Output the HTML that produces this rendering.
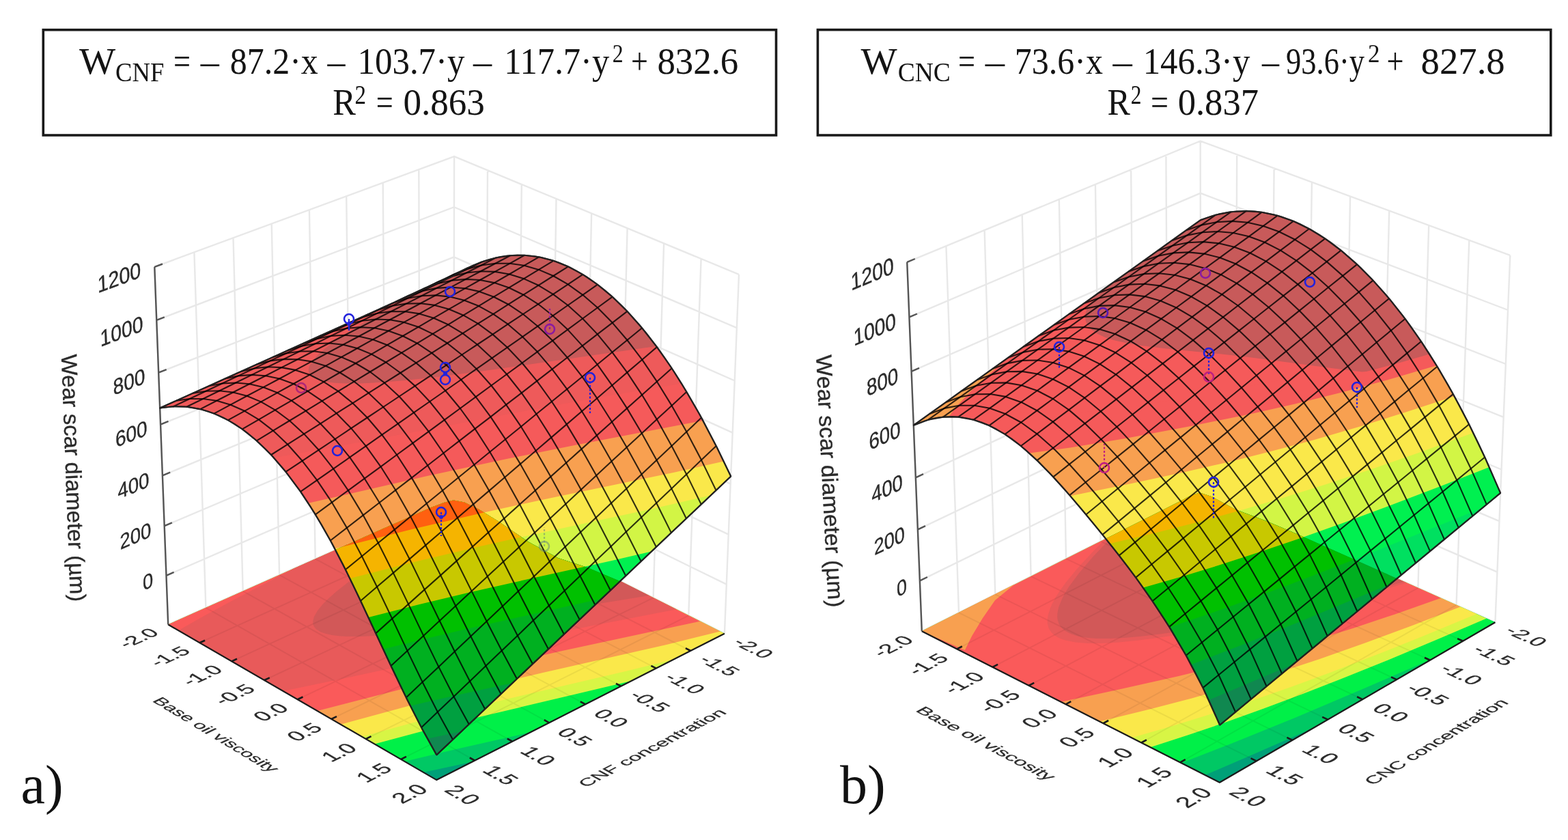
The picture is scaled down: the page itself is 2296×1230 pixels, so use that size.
<!DOCTYPE html>
<html><head><meta charset="utf-8"><style>
html,body{margin:0;padding:0;background:#fff;}
svg{display:block;}
.eq text{font-family:"Liberation Serif",serif;fill:#141414;}
.tk text{font-family:"Liberation Sans",Arial,sans-serif;stroke:#2b2b2b;stroke-width:0.35px;}
.lab{font-family:"Liberation Serif",serif;fill:#111;}
</style></head><body>
<svg xmlns="http://www.w3.org/2000/svg" width="2296" height="1230" viewBox="0 0 2296 1230">
<rect width="2296" height="1230" fill="#fff"/>
<rect x="63.3" y="43.7" width="1073.2" height="154.3" fill="none" stroke="#1a1a1a" stroke-width="3.6"/>
<rect x="1197.4" y="43.6" width="1073.4" height="154.4" fill="none" stroke="#1a1a1a" stroke-width="3.6"/>
<g class="eq"><text x="115.9" y="107.5" font-size="55.5" textLength="53.2" lengthAdjust="spacingAndGlyphs">W</text><text x="169.1" y="119.3" font-size="41" textLength="71.3" lengthAdjust="spacingAndGlyphs">CNF</text><text x="254.0" y="107.5" font-size="55.5" textLength="25.0" lengthAdjust="spacingAndGlyphs">=</text><text x="293.7" y="107.5" font-size="55.5" textLength="27.1" lengthAdjust="spacingAndGlyphs">–</text><text x="336.7" y="107.5" font-size="55.5" textLength="129.1" lengthAdjust="spacingAndGlyphs">87.2·x</text><text x="479.4" y="107.5" font-size="55.5" textLength="26.0" lengthAdjust="spacingAndGlyphs">–</text><text x="523.6" y="107.5" font-size="55.5" textLength="156.8" lengthAdjust="spacingAndGlyphs">103.7·y</text><text x="692.9" y="107.5" font-size="55.5" textLength="27.1" lengthAdjust="spacingAndGlyphs">–</text><text x="738.2" y="107.5" font-size="55.5" textLength="154.0" lengthAdjust="spacingAndGlyphs">117.7·y</text><text x="896.7" y="91.0" font-size="38.5" textLength="15.9" lengthAdjust="spacingAndGlyphs">2</text><text x="923.9" y="107.5" font-size="55.5" textLength="24.9" lengthAdjust="spacingAndGlyphs">+</text><text x="962.4" y="107.5" font-size="55.5" textLength="118.9" lengthAdjust="spacingAndGlyphs">832.6</text><text x="487.3" y="168.0" font-size="55.5" textLength="33.7" lengthAdjust="spacingAndGlyphs">R</text><text x="519.5" y="152.2" font-size="40" textLength="16.5" lengthAdjust="spacingAndGlyphs">2</text><text x="550.7" y="168.0" font-size="55.5" textLength="25.0" lengthAdjust="spacingAndGlyphs">=</text><text x="590.4" y="168.0" font-size="55.5" textLength="119.5" lengthAdjust="spacingAndGlyphs">0.863</text></g>
<g class="eq"><text x="1260.4" y="107.5" font-size="55.5" textLength="53.2" lengthAdjust="spacingAndGlyphs">W</text><text x="1314.7" y="119.3" font-size="41" textLength="77.1" lengthAdjust="spacingAndGlyphs">CNC</text><text x="1403.0" y="107.5" font-size="55.5" textLength="25.0" lengthAdjust="spacingAndGlyphs">=</text><text x="1442.7" y="107.5" font-size="55.5" textLength="28.3" lengthAdjust="spacingAndGlyphs">–</text><text x="1485.8" y="107.5" font-size="55.5" textLength="129.1" lengthAdjust="spacingAndGlyphs">73.6·x</text><text x="1629.6" y="107.5" font-size="55.5" textLength="28.3" lengthAdjust="spacingAndGlyphs">–</text><text x="1673.7" y="107.5" font-size="55.5" textLength="156.8" lengthAdjust="spacingAndGlyphs">146.3·y</text><text x="1848.0" y="107.5" font-size="55.5" textLength="25.0" lengthAdjust="spacingAndGlyphs">–</text><text x="1883.0" y="107.5" font-size="55.5" textLength="115.0" lengthAdjust="spacingAndGlyphs">93.6·y</text><text x="2003.0" y="91.0" font-size="38.5" textLength="17.5" lengthAdjust="spacingAndGlyphs">2</text><text x="2030.5" y="107.5" font-size="55.5" textLength="25.0" lengthAdjust="spacingAndGlyphs">+</text><text x="2080.5" y="107.5" font-size="55.5" textLength="123.2" lengthAdjust="spacingAndGlyphs">827.8</text><text x="1621.6" y="168.0" font-size="55.5" textLength="33.4" lengthAdjust="spacingAndGlyphs">R</text><text x="1655.8" y="152.2" font-size="40" textLength="15.7" lengthAdjust="spacingAndGlyphs">2</text><text x="1685.0" y="168.0" font-size="55.5" textLength="26.0" lengthAdjust="spacingAndGlyphs">=</text><text x="1724.7" y="168.0" font-size="55.5" textLength="118.3" lengthAdjust="spacingAndGlyphs">0.837</text></g>
<g id="pa">
<path d="M246.2,914.5 664.1,728.2 1060.9,927.7M243.4,842.8 664.2,659.6 1063.8,855.7M240.7,770.1 664.3,590.2 1066.8,782.7M237.9,696.3 664.5,519.9 1069.7,708.7M235,621.6 664.6,448.6 1072.7,633.6M232.1,545.7 664.8,376.4 1075.8,557.5M229.2,468.8 664.9,303.2 1078.9,480.2M226.3,390.8 665.1,229.1 1082,401.9M664.1,728.2 665.1,229.1M614.6,750.2 613.3,248.2M710.8,751.7 714,249.4M564.5,772.6 560.7,267.5M758.3,775.6 763.8,270M513.5,795.3 507.2,287.2M806.6,799.9 814.5,291M461.7,818.4 452.9,307.3M855.8,824.6 866.1,312.4M409.1,841.9 397.7,327.6M905.7,849.7 918.6,334.2M355.7,865.7 341.5,348.3M956.6,875.3 972.1,356.3M301.4,889.9 284.4,369.4M1008.3,901.3 1026.6,378.9M246.2,914.5 226.3,390.8M1060.9,927.7 1082,401.9" fill="none" stroke="#e8e8e8" stroke-width="2.4"/>
<path d="M246.2,914.5 639.3,1142.1 1060.9,927.7 664.1,728.2Z" fill="#00a078"/>
<path d="M666.4,729.3 1060.9,927.7 691.9,1115.4 620.1,1130.9 246.2,914.5 664.1,728.2Z" fill="#00c864"/>
<path d="M666.4,729.3 1060.9,927.7 776.6,1072.3 665.7,1097.5 592.6,1115.1 246.2,914.5 664.1,728.2Z" fill="#00f048"/>
<path d="M666.4,729.3 1060.9,927.7 924.8,997 687.5,1053.3 619.3,1070.5 548.4,1089.5 246.2,914.5 664.1,728.2Z" fill="#d8f545"/>
<path d="M666.4,729.3 1060.9,927.7 986.1,965.8 917.9,982.6 766.2,1018 695.2,1035.1 614,1055.8 529.9,1078.7 246.2,914.5 664.1,728.2Z" fill="#fae84a"/>
<path d="M666.4,729.3 1054.8,924.6 976,943.9 796,984.8 708,1005.6 610.2,1030.5 498.9,1060.8 246.2,914.5 664.1,728.2Z" fill="#f8a050"/>
<path d="M666.4,729.3 1025,909.7 822.2,953.3 730.7,974 615.4,1002.1 464.5,1040.9 246.2,914.5 664.1,728.2Z" fill="#fa5a5a"/>
<path d="M666.4,729.3 990.5,892.3 865.7,916.4 783.6,933 507.8,992.5 414.5,1012 261.2,923.3 295.9,903.6 339.2,880 430.1,832.5 664.1,728.2Z" fill="#e85a5a"/>
<path d="M692,742.2 950.4,872.1 709.9,911.3 649,920.3 598.7,926.7 552.8,930.8 529.3,932 513.3,932.1 498.8,931.4 486.1,929.9 475.5,927.5 469.6,925.4 462.9,921.2 460.9,918.9 459,915.7 458.4,913.5 458.3,909.2 459.8,903.3 465.1,894 471.5,886 479.8,877.4 492.4,866.3 508.2,853.8 526.7,840.4 547.8,826.1 569.4,812.3 622.5,780.3 690.9,741.7Z" fill="#d25858"/>
<path d="M710.8,751.7 292.3,941.2M614.6,750.2 1011.3,953M758.3,775.6 339.2,968.4M564.5,772.6 960.8,978.7M806.6,799.9 387,996M513.5,795.3 909.5,1004.8M855.8,824.6 435.6,1024.2M461.7,818.4 857.3,1031.3M905.7,849.7 485.2,1052.9M409.1,841.9 804.2,1058.3M956.6,875.3 535.6,1082.1M355.7,865.7 750.2,1085.7M1008.3,901.3 587,1111.8M301.4,889.9 695.2,1113.7" fill="none" stroke="#000" stroke-opacity="0.06" stroke-width="2"/>
<path d="M246.2,914.5 639.3,1142.1 1060.9,927.7" fill="none" stroke="#1a1a1a" stroke-width="2.2" stroke-linejoin="round"/>
<path d="M292.3,941.2 300.1,937.7M1011.3,953 1003.9,949.2M339.2,968.4 347,964.8M960.8,978.7 953.4,974.8M387,996 394.8,992.4M909.5,1004.8 902,1000.8M435.6,1024.2 443.5,1020.5M857.3,1031.3 849.8,1027.3M485.2,1052.9 493,1049.1M804.2,1058.3 796.8,1054.2M535.6,1082.1 543.5,1078.2M750.2,1085.7 742.8,1081.6M587,1111.8 594.9,1107.9M695.2,1113.7 687.8,1109.5" fill="none" stroke="#1a1a1a" stroke-width="2.6"/>
<path d="M246.2,914.5 226.3,390.8M243.4,842.8 254.6,837.9M240.7,770.1 251.9,765.3M237.9,696.3 249.2,691.6M235,621.6 246.5,616.9M232.1,545.7 243.7,541.2M229.2,468.8 240.8,464.4M226.3,390.8 238,386.5" fill="none" stroke="#555" stroke-width="2.4"/>
<g><path d="M664.7,403.4 679.1,395.1 691.2,389.2 703.4,384.2 715.6,380.1 730.4,376.5 742.8,374.6 755.2,373.7 767.7,373.8 780.3,374.9 792.9,377 805.5,380.2 818.2,384.5 830.9,389.8 843.7,396.3 856.5,403.8 869.3,412.5 882.2,422.2 895,433.1 907.9,445.2 920.8,458.4 933.8,472.7 946.7,488.2 969.9,519.1 982.9,538 995.8,558 1008.7,579.2 1021.5,601.6 1047.2,649.9 1070.2,697.5 639.3,1105.4 618.1,1067.4 597,1025.9 575.8,982.1 520.4,863.8 504.7,831.5 488.9,800.9 473.2,772.6 455,742.4 436.9,715.4 419,691.5 408.7,679.1 396,665 385.9,654.8 373.4,643.2 363.4,634.9 350.9,625.8 341.1,619.4 328.8,612.5 319.1,607.9 307,603.2 295,599.6 283,597.1 271.2,595.6 259.5,595.2 247.9,595.7 234.1,597.5 664.7,403.4Z" fill="#00a078"/><path d="M666.6,402.3 680.1,394.6 691.7,389 705.4,383.5 717.1,379.7 730.9,376.5 742.8,374.6 756.7,373.7 768.7,373.8 782.8,375.2 794.9,377.5 809.1,381.3 821.2,385.7 835.5,392 847.8,398.6 860.1,406.1 872.4,414.7 886.8,426 899.2,436.9 911.5,448.8 923.9,461.7 936.3,475.7 948.7,490.8 961.2,507 973.6,524.3 986,542.7 998.3,562.1 1023.1,604.3 1047.7,650.9 1070.2,697.5 675.3,1071.3 625.8,1081.7 609.7,1051.1 592.7,1017.3 516.8,856.2 499.9,822.2 483.2,790.2 462.3,754.1 441.6,722.1 421,694.1 410.8,681.5 398.6,667.7 388.4,657.2 378.4,647.6 368.4,638.9 358.4,631.1 348.5,624.1 338.6,617.9 328.8,612.5 317.1,607.1 307.4,603.3 297.8,600.3 288.3,598.1 276.9,596.2 267.5,595.4 256.3,595.2 245.1,595.9 234.1,597.5 664.7,403.4Z" fill="#00c864"/><path d="M666.6,402.3 680.1,394.6 691.7,389 705.4,383.5 717.1,379.7 730.9,376.5 742.8,374.6 756.7,373.7 768.7,373.8 782.8,375.2 794.9,377.5 809.1,381.3 821.2,385.7 835.5,392 847.8,398.6 860.1,406.1 872.4,414.7 886.8,426 899.2,436.9 911.5,448.8 923.9,461.7 936.3,475.7 948.7,490.8 961.2,507 973.6,524.3 986,542.7 998.3,562.1 1023.1,604.3 1047.7,650.9 1070.2,697.5 750.6,1000.1 662,1019.4 600.7,1033.4 575.8,982.1 516.8,856.2 499.9,822.2 485.3,794.1 466.5,761 447.8,731.3 429.2,704.8 410.8,681.5 390.5,659.3 380.4,649.5 368.4,638.9 358.4,631.1 346.5,622.8 336.6,616.8 324.9,610.6 315.2,606.3 303.6,602.1 292.1,598.9 280.7,596.7 269.4,595.5 258.1,595.2 247,595.7 234.1,597.5 664.7,403.4Z" fill="#00e060"/><path d="M666.6,402.3 680.1,394.6 691.7,389 705.4,383.5 717.1,379.7 730.9,376.5 742.8,374.6 756.7,373.7 768.7,373.8 782.8,375.2 794.9,377.5 809.1,381.3 821.2,385.7 835.5,392 847.8,398.6 860.1,406.1 872.4,414.7 886.8,426 899.2,436.9 911.5,448.8 923.9,461.7 936.3,475.7 948.7,490.8 961.2,507 973.6,524.3 986,542.7 998.3,562.1 1023.1,604.3 1047.7,650.9 1070.2,697.5 881.3,876.4 680.9,921.5 618.1,936.4 561.1,950.6 529.4,882.7 508.3,838.9 489.4,801.9 472.7,771.6 454,740.8 435.4,713.3 416.9,688.9 398.6,667.7 388.4,657.2 378.4,647.6 368.4,638.9 358.4,631.1 348.5,624.1 338.6,617.9 328.8,612.5 317.1,607.1 307.4,603.3 297.8,600.3 288.3,598.1 276.9,596.2 267.5,595.4 256.3,595.2 245.1,595.9 234.1,597.5 664.7,403.4Z" fill="#00f050"/><path d="M666.6,402.3 685.9,391.7 705.4,383.5 715.1,380.3 725,377.7 742.8,374.6 752.7,373.8 762.7,373.6 780.8,375 790.8,376.6 800.9,379 819.2,384.9 829.4,389.1 839.6,394.1 858,404.8 876.5,417.8 895,433.1 913.6,450.8 932.2,470.9 950.8,493.5 969.4,518.4 983.9,539.5 996.3,558.8 1021,600.6 1045.7,646.9 1070.2,697.5 953.9,807.6 894.8,821.2 756.1,851.9 689.3,867.1 614.1,885.1 539.5,904.1 514.6,851.8 495.7,813.9 479,782.7 462.3,754.1 445.7,728.2 427.2,702.1 408.7,679.1 390.5,659.3 372.4,642.3 362.4,634.1 352.4,626.8 342.5,620.3 332.7,614.6 322.9,609.6 313.2,605.5 303.6,602.1 294,599.3 284.5,597.3 275,596 265.6,595.3 254.4,595.3 245.1,595.9 234.1,597.5 664.7,403.4Z" fill="#d2f545"/><path d="M666.6,402.3 682,393.6 695.6,387.3 709.3,382.1 723,378.2 736.8,375.4 750.7,373.9 764.7,373.7 778.8,374.7 792.9,377 807,380.7 821.2,385.7 835.5,392 849.8,399.8 864.2,408.9 878.6,419.4 890.9,429.5 911.5,448.8 930.1,468.6 950.8,493.5 969.4,518.4 990.1,549 1008.7,579.2 1027.2,611.8 1045.7,646.9 1070.2,697.5 1040.9,725.3 955.5,745 781.7,782.4 700.9,800.4 609.2,822.3 512.3,847 495.7,813.9 479,782.7 462.3,754.1 445.7,728.2 429.2,704.8 410.8,681.5 394.5,663.4 376.4,645.8 358.4,631.1 340.6,619.1 322.9,609.6 305.5,602.7 288.3,598.1 278.8,596.4 269.4,595.5 252.5,595.4 234.1,597.5 664.7,403.4Z" fill="#fae84a"/><path d="M666.6,402.3 680.1,394.6 691.7,389 705.4,383.5 717.1,379.7 730.9,376.5 742.8,374.6 754.7,373.7 766.7,373.7 780.8,375 792.9,377 805,380.1 817.2,384.1 829.4,389.1 841.6,395.2 853.9,402.2 866.2,410.3 878.6,419.4 890.9,429.5 903.3,440.7 915.7,453 928.1,466.3 940.5,480.6 952.9,496.1 965.3,512.7 977.7,530.3 990.1,549 1012.8,586.2 1035.4,627.1 1059.8,675.6 985.9,692 805.1,729.4 712.9,749.4 604.2,774.8 490.2,803.4 474.8,775.3 460.2,750.7 445.7,728.2 429.2,704.8 414.9,686.4 398.6,667.7 382.4,651.4 366.4,637.3 350.4,625.4 334.7,615.6 319.1,607.9 301.7,601.5 284.5,597.3 267.5,595.4 250.7,595.5 234.1,597.5 664.7,403.4Z" fill="#f8a050"/><path d="M666.6,402.3 678.2,395.6 689.8,389.9 701.4,384.9 713.2,380.9 725,377.7 736.8,375.4 748.7,374.1 758.7,373.6 770.7,374 782.8,375.2 794.9,377.5 805,380.1 817.2,384.1 827.4,388.2 839.6,394.1 849.8,399.8 862.1,407.5 872.4,414.7 884.7,424.3 895,433.1 907.4,444.7 917.7,455.1 940.5,480.6 963.2,509.8 986,542.7 1008.7,579.2 1029.4,615.9 836.2,652.9 740.6,672.2 625.4,697.1 451.4,736.8 437.5,716.2 425.1,699.4 412.8,684 398.6,667.7 386.4,655.2 372.4,642.3 358.4,631.1 344.5,621.5 330.8,613.5 317.1,607.1 303.6,602.1 290.2,598.5 276.9,596.2 261.9,595.2 248.8,595.6 234.1,597.5 664.7,403.4Z" fill="#f55a5a"/><path d="M666.6,402.3 678.2,395.6 687.8,390.8 699.5,385.7 709.3,382.1 721,378.7 730.9,376.5 740.8,374.9 750.7,373.9 762.7,373.6 772.7,374.1 782.8,375.2 792.9,377 803,379.5 813.1,382.7 823.3,386.5 833.5,391 843.7,396.3 853.9,402.2 874.4,416.2 895,433.1 915.7,453 936.3,475.7 957,501.5 977.7,530.3 998,561.6 883.1,581.1 803.4,595.3 508.5,650.9 400.8,670.2 382.4,651.4 364.4,635.7 346.5,622.8 328.8,612.5 311.3,604.7 301.7,601.5 292.1,598.9 282.6,597 273.1,595.8 255.8,595.2 285.9,579.3 320.4,561.9 401.7,522.7 474.5,489.2 664.7,403.4Z" fill="#ee5a5a"/><path d="M693.7,388.1 711.2,381.5 727,377.3 744.8,374.4 760.7,373.6 778.8,374.7 794.9,377.5 811.1,382 827.4,388.2 845.7,397.4 862.1,407.5 878.6,419.4 895,433.1 911.5,448.8 928.1,466.3 944.6,485.7 961.1,506.9 707.4,543.3 644.6,551.4 591.4,557.2 543.3,560.8 524.1,561.5 506.6,561.5 490.9,560.8 480.6,559.6 468.9,557.3 461.9,554.8 458.1,552.8 455.2,550.5 452.4,546.3 451.7,541.3 452.5,537.5 453.9,534.4 458.8,526.9 466.4,518.8 476.4,510.1 489.2,500.3 505.2,489.3 522.2,478.5 543.2,466 568.4,451.9 624.6,422.2 692.5,388.6Z" fill="#c85a5a"/></g>
<clipPath id="fca"><path d="M246.2,914.5 560,774.5 600,757 630,743.5 650,736 664,732.5 680,735.5 701.6,746 729,763 773,793 817,817 860,831 904,849.5 1060.9,927.7 639.3,1142.1Z"/></clipPath>
<g clip-path="url(#fca)"><path d="M664.7,403.4 679.1,395.1 691.2,389.2 703.4,384.2 715.6,380.1 730.4,376.5 742.8,374.6 755.2,373.7 767.7,373.8 780.3,374.9 792.9,377 805.5,380.2 818.2,384.5 830.9,389.8 843.7,396.3 856.5,403.8 869.3,412.5 882.2,422.2 895,433.1 907.9,445.2 920.8,458.4 933.8,472.7 946.7,488.2 969.9,519.1 982.9,538 995.8,558 1008.7,579.2 1021.5,601.6 1047.2,649.9 1070.2,697.5 639.3,1105.4 618.1,1067.4 597,1025.9 575.8,982.1 520.4,863.8 504.7,831.5 488.9,800.9 473.2,772.6 455,742.4 436.9,715.4 419,691.5 408.7,679.1 396,665 385.9,654.8 373.4,643.2 363.4,634.9 350.9,625.8 341.1,619.4 328.8,612.5 319.1,607.9 307,603.2 295,599.6 283,597.1 271.2,595.6 259.5,595.2 247.9,595.7 234.1,597.5 664.7,403.4Z" fill="#108850"/><path d="M666.6,402.3 680.1,394.6 691.7,389 705.4,383.5 717.1,379.7 730.9,376.5 742.8,374.6 756.7,373.7 768.7,373.8 782.8,375.2 794.9,377.5 809.1,381.3 821.2,385.7 835.5,392 847.8,398.6 860.1,406.1 872.4,414.7 886.8,426 899.2,436.9 911.5,448.8 923.9,461.7 936.3,475.7 948.7,490.8 961.2,507 973.6,524.3 986,542.7 998.3,562.1 1023.1,604.3 1047.7,650.9 1070.2,697.5 675.3,1071.3 625.8,1081.7 609.7,1051.1 592.7,1017.3 516.8,856.2 499.9,822.2 483.2,790.2 462.3,754.1 441.6,722.1 421,694.1 410.8,681.5 398.6,667.7 388.4,657.2 378.4,647.6 368.4,638.9 358.4,631.1 348.5,624.1 338.6,617.9 328.8,612.5 317.1,607.1 307.4,603.3 297.8,600.3 288.3,598.1 276.9,596.2 267.5,595.4 256.3,595.2 245.1,595.9 234.1,597.5 664.7,403.4Z" fill="#00a040"/><path d="M666.6,402.3 680.1,394.6 691.7,389 705.4,383.5 717.1,379.7 730.9,376.5 742.8,374.6 756.7,373.7 768.7,373.8 782.8,375.2 794.9,377.5 809.1,381.3 821.2,385.7 835.5,392 847.8,398.6 860.1,406.1 872.4,414.7 886.8,426 899.2,436.9 911.5,448.8 923.9,461.7 936.3,475.7 948.7,490.8 961.2,507 973.6,524.3 986,542.7 998.3,562.1 1023.1,604.3 1047.7,650.9 1070.2,697.5 750.6,1000.1 662,1019.4 600.7,1033.4 575.8,982.1 516.8,856.2 499.9,822.2 485.3,794.1 466.5,761 447.8,731.3 429.2,704.8 410.8,681.5 390.5,659.3 380.4,649.5 368.4,638.9 358.4,631.1 346.5,622.8 336.6,616.8 324.9,610.6 315.2,606.3 303.6,602.1 292.1,598.9 280.7,596.7 269.4,595.5 258.1,595.2 247,595.7 234.1,597.5 664.7,403.4Z" fill="#00b020"/><path d="M666.6,402.3 680.1,394.6 691.7,389 705.4,383.5 717.1,379.7 730.9,376.5 742.8,374.6 756.7,373.7 768.7,373.8 782.8,375.2 794.9,377.5 809.1,381.3 821.2,385.7 835.5,392 847.8,398.6 860.1,406.1 872.4,414.7 886.8,426 899.2,436.9 911.5,448.8 923.9,461.7 936.3,475.7 948.7,490.8 961.2,507 973.6,524.3 986,542.7 998.3,562.1 1023.1,604.3 1047.7,650.9 1070.2,697.5 881.3,876.4 680.9,921.5 618.1,936.4 561.1,950.6 529.4,882.7 508.3,838.9 489.4,801.9 472.7,771.6 454,740.8 435.4,713.3 416.9,688.9 398.6,667.7 388.4,657.2 378.4,647.6 368.4,638.9 358.4,631.1 348.5,624.1 338.6,617.9 328.8,612.5 317.1,607.1 307.4,603.3 297.8,600.3 288.3,598.1 276.9,596.2 267.5,595.4 256.3,595.2 245.1,595.9 234.1,597.5 664.7,403.4Z" fill="#00c000"/><path d="M666.6,402.3 685.9,391.7 705.4,383.5 715.1,380.3 725,377.7 742.8,374.6 752.7,373.8 762.7,373.6 780.8,375 790.8,376.6 800.9,379 819.2,384.9 829.4,389.1 839.6,394.1 858,404.8 876.5,417.8 895,433.1 913.6,450.8 932.2,470.9 950.8,493.5 969.4,518.4 983.9,539.5 996.3,558.8 1021,600.6 1045.7,646.9 1070.2,697.5 953.9,807.6 894.8,821.2 756.1,851.9 689.3,867.1 614.1,885.1 539.5,904.1 514.6,851.8 495.7,813.9 479,782.7 462.3,754.1 445.7,728.2 427.2,702.1 408.7,679.1 390.5,659.3 372.4,642.3 362.4,634.1 352.4,626.8 342.5,620.3 332.7,614.6 322.9,609.6 313.2,605.5 303.6,602.1 294,599.3 284.5,597.3 275,596 265.6,595.3 254.4,595.3 245.1,595.9 234.1,597.5 664.7,403.4Z" fill="#c8c800"/><path d="M666.6,402.3 682,393.6 695.6,387.3 709.3,382.1 723,378.2 736.8,375.4 750.7,373.9 764.7,373.7 778.8,374.7 792.9,377 807,380.7 821.2,385.7 835.5,392 849.8,399.8 864.2,408.9 878.6,419.4 890.9,429.5 911.5,448.8 930.1,468.6 950.8,493.5 969.4,518.4 990.1,549 1008.7,579.2 1027.2,611.8 1045.7,646.9 1070.2,697.5 1040.9,725.3 955.5,745 781.7,782.4 700.9,800.4 609.2,822.3 512.3,847 495.7,813.9 479,782.7 462.3,754.1 445.7,728.2 429.2,704.8 410.8,681.5 394.5,663.4 376.4,645.8 358.4,631.1 340.6,619.1 322.9,609.6 305.5,602.7 288.3,598.1 278.8,596.4 269.4,595.5 252.5,595.4 234.1,597.5 664.7,403.4Z" fill="#f5b400"/><path d="M666.6,402.3 680.1,394.6 691.7,389 705.4,383.5 717.1,379.7 730.9,376.5 742.8,374.6 754.7,373.7 766.7,373.7 780.8,375 792.9,377 805,380.1 817.2,384.1 829.4,389.1 841.6,395.2 853.9,402.2 866.2,410.3 878.6,419.4 890.9,429.5 903.3,440.7 915.7,453 928.1,466.3 940.5,480.6 952.9,496.1 965.3,512.7 977.7,530.3 990.1,549 1012.8,586.2 1035.4,627.1 1059.8,675.6 985.9,692 805.1,729.4 712.9,749.4 604.2,774.8 490.2,803.4 474.8,775.3 460.2,750.7 445.7,728.2 429.2,704.8 414.9,686.4 398.6,667.7 382.4,651.4 366.4,637.3 350.4,625.4 334.7,615.6 319.1,607.9 301.7,601.5 284.5,597.3 267.5,595.4 250.7,595.5 234.1,597.5 664.7,403.4Z" fill="#ff6010"/><path d="M666.6,402.3 678.2,395.6 689.8,389.9 701.4,384.9 713.2,380.9 725,377.7 736.8,375.4 748.7,374.1 758.7,373.6 770.7,374 782.8,375.2 794.9,377.5 805,380.1 817.2,384.1 827.4,388.2 839.6,394.1 849.8,399.8 862.1,407.5 872.4,414.7 884.7,424.3 895,433.1 907.4,444.7 917.7,455.1 940.5,480.6 963.2,509.8 986,542.7 1008.7,579.2 1029.4,615.9 836.2,652.9 740.6,672.2 625.4,697.1 451.4,736.8 437.5,716.2 425.1,699.4 412.8,684 398.6,667.7 386.4,655.2 372.4,642.3 358.4,631.1 344.5,621.5 330.8,613.5 317.1,607.1 303.6,602.1 290.2,598.5 276.9,596.2 261.9,595.2 248.8,595.6 234.1,597.5 664.7,403.4Z" fill="#e84040"/><path d="M666.6,402.3 678.2,395.6 687.8,390.8 699.5,385.7 709.3,382.1 721,378.7 730.9,376.5 740.8,374.9 750.7,373.9 762.7,373.6 772.7,374.1 782.8,375.2 792.9,377 803,379.5 813.1,382.7 823.3,386.5 833.5,391 843.7,396.3 853.9,402.2 874.4,416.2 895,433.1 915.7,453 936.3,475.7 957,501.5 977.7,530.3 998,561.6 883.1,581.1 803.4,595.3 508.5,650.9 400.8,670.2 382.4,651.4 364.4,635.7 346.5,622.8 328.8,612.5 311.3,604.7 301.7,601.5 292.1,598.9 282.6,597 273.1,595.8 255.8,595.2 285.9,579.3 320.4,561.9 401.7,522.7 474.5,489.2 664.7,403.4Z" fill="#e04040"/><path d="M693.7,388.1 711.2,381.5 727,377.3 744.8,374.4 760.7,373.6 778.8,374.7 794.9,377.5 811.1,382 827.4,388.2 845.7,397.4 862.1,407.5 878.6,419.4 895,433.1 911.5,448.8 928.1,466.3 944.6,485.7 961.1,506.9 707.4,543.3 644.6,551.4 591.4,557.2 543.3,560.8 524.1,561.5 506.6,561.5 490.9,560.8 480.6,559.6 468.9,557.3 461.9,554.8 458.1,552.8 455.2,550.5 452.4,546.3 451.7,541.3 452.5,537.5 453.9,534.4 458.8,526.9 466.4,518.8 476.4,510.1 489.2,500.3 505.2,489.3 522.2,478.5 543.2,466 568.4,451.9 624.6,422.2 692.5,388.6Z" fill="#b84848"/></g>
<path d="M664.7,403.4 643.4,413.1 621.9,422.7 600.2,432.5 578.5,442.3 556.6,452.2 534.5,462.1 512.3,472.1 490,482.2 467.5,492.3 444.8,502.5 422,512.8 399.1,523.1 376,533.5 352.7,544 329.3,554.5 305.8,565.2 282,575.9 258.2,586.6 234.1,597.5M685,392.1 663.6,402.2 642,412.4 620.4,422.6 598.5,432.8 576.6,443.2 554.5,453.6 532.2,464.1 509.8,474.6 487.3,485.2 464.6,495.9 441.8,506.7 418.8,517.5 395.6,528.4 372.4,539.4 348.9,550.4 325.3,561.5 301.5,572.7 277.6,584 253.5,595.3M705.5,383.5 684,394 662.4,404.6 640.7,415.3 618.8,426 596.8,436.8 574.7,447.7 552.4,458.7 529.9,469.7 507.4,480.8 484.6,491.9 461.8,503.2 438.7,514.5 415.6,525.9 392.2,537.3 368.7,548.9 345.1,560.5 321.3,572.2 297.3,584 273.2,595.8M726.1,377.4 704.6,388.5 683,399.5 661.2,410.7 639.3,421.9 617.3,433.2 595.1,444.6 572.7,456 550.3,467.5 527.7,479.1 504.9,490.7 482,502.5 458.9,514.3 435.7,526.2 412.3,538.1 388.8,550.2 365.2,562.3 341.3,574.5 317.3,586.8 293.2,599.1M747,374.2 725.4,385.7 703.8,397.3 681.9,408.9 660,420.6 637.9,432.4 615.7,444.3 593.3,456.2 570.8,468.2 548.2,480.3 525.4,492.5 502.4,504.7 479.3,517 456.1,529.4 432.7,541.9 409.2,554.5 385.5,567.1 361.6,579.8 337.6,592.7 313.4,605.6M768,373.8 746.4,385.8 724.7,397.9 702.9,410 680.9,422.3 658.8,434.6 636.5,446.9 614.1,459.4 591.6,471.9 568.9,484.5 546.1,497.2 523.1,510 500,522.9 476.7,535.8 453.3,548.8 429.8,562 406,575.1 382.2,588.4 358.1,601.8 334,615.2M789.1,376.3 767.5,388.8 745.8,401.5 723.9,414.1 701.9,426.9 679.8,439.8 657.5,452.7 635.1,465.7 612.5,478.8 589.8,492 567,505.2 544,518.6 520.8,532 497.6,545.5 474.1,559.1 450.6,572.8 426.8,586.6 402.9,600.4 378.9,614.4 354.7,628.4M810.4,381.8 788.8,394.9 767,408.1 745.1,421.3 723.1,434.7 700.9,448.1 678.6,461.7 656.2,475.3 633.6,488.9 610.9,502.7 588,516.6 565,530.5 541.9,544.5 518.6,558.7 495.2,572.9 471.6,587.2 447.8,601.6 424,616 399.9,630.6 375.7,645.3M831.9,390.3 810.2,404 788.4,417.8 766.5,431.7 744.4,445.7 722.3,459.8 699.9,473.9 677.5,488.2 654.9,502.5 632.2,516.9 609.3,531.4 586.3,546 563.1,560.7 539.8,575.4 516.4,590.3 492.8,605.2 469.1,620.3 445.2,635.4 421.2,650.7 397,666M853.4,401.9 831.7,416.3 809.9,430.8 788,445.3 765.9,460 743.7,474.7 721.4,489.6 698.9,504.5 676.3,519.5 653.6,534.6 630.7,549.8 607.7,565.1 584.5,580.5 561.2,596 537.8,611.5 514.2,627.2 490.5,643 466.6,658.8 442.6,674.8 418.4,690.8M875,416.6 853.3,431.8 831.5,447 809.5,462.3 787.4,477.7 765.2,493.2 742.9,508.7 720.4,524.4 697.8,540.2 675.1,556 652.2,572 629.2,588 606,604.2 582.8,620.4 559.3,636.7 535.8,653.2 512.1,669.7 488.2,686.3 464.2,703.1 440.1,719.9M896.7,434.6 875,450.5 853.1,466.5 831.2,482.6 809.1,498.8 786.8,515.1 764.5,531.5 742,548 719.4,564.5 696.7,581.2 673.8,598 650.8,614.8 627.7,631.8 604.4,648.9 581,666 557.5,683.3 533.8,700.7 509.9,718.1 486,735.7 461.9,753.4M918.4,455.8 896.7,472.6 874.8,489.4 852.8,506.4 830.7,523.5 808.5,540.6 786.2,557.9 763.7,575.3 741.1,592.7 718.4,610.3 695.5,627.9 672.5,645.7 649.4,663.5 626.2,681.5 602.8,699.6 579.3,717.7 555.6,736 531.8,754.4 507.9,772.9 483.8,791.5M940.1,480.3 918.4,498 896.5,515.8 874.6,533.7 852.5,551.7 830.3,569.8 807.9,588 785.4,606.3 762.9,624.7 740.1,643.2 717.3,661.8 694.3,680.5 671.2,699.3 648,718.2 624.7,737.3 601.2,756.4 577.6,775.6 553.8,795 529.9,814.5 505.9,834M961.9,508.1 940.2,526.7 918.3,545.4 896.3,564.3 874.2,583.2 852,602.2 829.7,621.4 807.2,640.6 784.6,660 761.9,679.4 739.1,699 716.2,718.6 693.1,738.4 669.9,758.3 646.6,778.3 623.2,798.4 599.6,818.6 575.9,838.9 552,859.3 528.1,879.8M983.7,539.2 961.9,558.7 940.1,578.3 918.1,597.9 896,617.7 873.8,637.6 851.4,657.6 829,677.7 806.4,697.9 783.8,718.2 761,738.6 738.1,759.2 715,779.8 691.9,800.5 668.6,821.4 645.2,842.4 621.6,863.4 598,884.6 574.2,905.9 550.3,927.4M1005.4,573.7 983.6,593.9 961.8,614.1 939.8,634.5 917.7,655 895.5,675.5 873.2,696.2 850.8,717 828.3,737.9 805.6,758.9 782.9,780 760,801.2 737,822.6 713.8,844 690.6,865.6 667.2,887.2 643.7,909 620.1,930.9 596.4,952.9 572.5,975M1027.1,611.6 1005.3,632.2 983.5,652.9 961.5,673.7 939.5,694.6 917.3,715.6 895,736.7 872.6,758 850.1,779.3 827.5,800.8 804.8,822.3 781.9,844 758.9,865.8 735.8,887.7 712.6,909.7 689.3,931.8 665.8,954 642.3,976.4 618.6,998.8 594.7,1021.4M1048.7,652.9 1027,673.6 1005.2,694.4 983.3,715.4 961.2,736.4 939.1,757.6 916.8,778.8 894.5,800.2 872,821.6 849.4,843.2 826.7,864.9 803.9,886.7 780.9,908.6 757.9,930.7 734.7,952.8 711.4,975.1 688,997.4 664.5,1019.9 640.8,1042.5 617,1065.3M1070.2,697.5 1048.5,718 1026.8,738.6 1004.9,759.3 982.9,780.1 960.9,801 938.7,822 916.3,843.2 893.9,864.4 871.4,885.7 848.7,907.2 825.9,928.8 803,950.4 780,972.2 756.9,994.1 733.6,1016.2 710.2,1038.3 686.7,1060.6 663.1,1082.9 639.3,1105.4" fill="none" stroke="#000" stroke-opacity="0.8" stroke-width="2.1" stroke-linejoin="round"/>
<path d="M664.7,403.4 685,392.1 705.5,383.5 726.1,377.4 747,374.2 768,373.8 789.1,376.3 810.4,381.8 831.9,390.3 853.4,401.9 875,416.6 896.7,434.6 918.4,455.8 940.1,480.3 961.9,508.1 983.7,539.2 1005.4,573.7 1027.1,611.6 1048.7,652.9 1070.2,697.5M643.4,413.1 663.6,402.2 684,394 704.6,388.5 725.4,385.7 746.4,385.8 767.5,388.8 788.8,394.9 810.2,404 831.7,416.3 853.3,431.8 875,450.5 896.7,472.6 918.4,498 940.2,526.7 961.9,558.7 983.6,593.9 1005.3,632.2 1027,673.6 1048.5,718M621.9,422.7 642,412.4 662.4,404.6 683,399.5 703.8,397.3 724.7,397.9 745.8,401.5 767,408.1 788.4,417.8 809.9,430.8 831.5,447 853.1,466.5 874.8,489.4 896.5,515.8 918.3,545.4 940.1,578.3 961.8,614.1 983.5,652.9 1005.2,694.4 1026.8,738.6M600.2,432.5 620.4,422.6 640.7,415.3 661.2,410.7 681.9,408.9 702.9,410 723.9,414.1 745.1,421.3 766.5,431.7 788,445.3 809.5,462.3 831.2,482.6 852.8,506.4 874.6,533.7 896.3,564.3 918.1,597.9 939.8,634.5 961.5,673.7 983.3,715.4 1004.9,759.3M578.5,442.3 598.5,432.8 618.8,426 639.3,421.9 660,420.6 680.9,422.3 701.9,426.9 723.1,434.7 744.4,445.7 765.9,460 787.4,477.7 809.1,498.8 830.7,523.5 852.5,551.7 874.2,583.2 896,617.7 917.7,655 939.5,694.6 961.2,736.4 982.9,780.1M556.6,452.2 576.6,443.2 596.8,436.8 617.3,433.2 637.9,432.4 658.8,434.6 679.8,439.8 700.9,448.1 722.3,459.8 743.7,474.7 765.2,493.2 786.8,515.1 808.5,540.6 830.3,569.8 852,602.2 873.8,637.6 895.5,675.5 917.3,715.6 939.1,757.6 960.9,801M534.5,462.1 554.5,453.6 574.7,447.7 595.1,444.6 615.7,444.3 636.5,446.9 657.5,452.7 678.6,461.7 699.9,473.9 721.4,489.6 742.9,508.7 764.5,531.5 786.2,557.9 807.9,588 829.7,621.4 851.4,657.6 873.2,696.2 895,736.7 916.8,778.8 938.7,822M512.3,472.1 532.2,464.1 552.4,458.7 572.7,456 593.3,456.2 614.1,459.4 635.1,465.7 656.2,475.3 677.5,488.2 698.9,504.5 720.4,524.4 742,548 763.7,575.3 785.4,606.3 807.2,640.6 829,677.7 850.8,717 872.6,758 894.5,800.2 916.3,843.2M490,482.2 509.8,474.6 529.9,469.7 550.3,467.5 570.8,468.2 591.6,471.9 612.5,478.8 633.6,488.9 654.9,502.5 676.3,519.5 697.8,540.2 719.4,564.5 741.1,592.7 762.9,624.7 784.6,660 806.4,697.9 828.3,737.9 850.1,779.3 872,821.6 893.9,864.4M467.5,492.3 487.3,485.2 507.4,480.8 527.7,479.1 548.2,480.3 568.9,484.5 589.8,492 610.9,502.7 632.2,516.9 653.6,534.6 675.1,556 696.7,581.2 718.4,610.3 740.1,643.2 761.9,679.4 783.8,718.2 805.6,758.9 827.5,800.8 849.4,843.2 871.4,885.7M444.8,502.5 464.6,495.9 484.6,491.9 504.9,490.7 525.4,492.5 546.1,497.2 567,505.2 588,516.6 609.3,531.4 630.7,549.8 652.2,572 673.8,598 695.5,627.9 717.3,661.8 739.1,699 761,738.6 782.9,780 804.8,822.3 826.7,864.9 848.7,907.2M422,512.8 441.8,506.7 461.8,503.2 482,502.5 502.4,504.7 523.1,510 544,518.6 565,530.5 586.3,546 607.7,565.1 629.2,588 650.8,614.8 672.5,645.7 694.3,680.5 716.2,718.6 738.1,759.2 760,801.2 781.9,844 803.9,886.7 825.9,928.8M399.1,523.1 418.8,517.5 438.7,514.5 458.9,514.3 479.3,517 500,522.9 520.8,532 541.9,544.5 563.1,560.7 584.5,580.5 606,604.2 627.7,631.8 649.4,663.5 671.2,699.3 693.1,738.4 715,779.8 737,822.6 758.9,865.8 780.9,908.6 803,950.4M376,533.5 395.6,528.4 415.6,525.9 435.7,526.2 456.1,529.4 476.7,535.8 497.6,545.5 518.6,558.7 539.8,575.4 561.2,596 582.8,620.4 604.4,648.9 626.2,681.5 648,718.2 669.9,758.3 691.9,800.5 713.8,844 735.8,887.7 757.9,930.7 780,972.2M352.7,544 372.4,539.4 392.2,537.3 412.3,538.1 432.7,541.9 453.3,548.8 474.1,559.1 495.2,572.9 516.4,590.3 537.8,611.5 559.3,636.7 581,666 602.8,699.6 624.7,737.3 646.6,778.3 668.6,821.4 690.6,865.6 712.6,909.7 734.7,952.8 756.9,994.1M329.3,554.5 348.9,550.4 368.7,548.9 388.8,550.2 409.2,554.5 429.8,562 450.6,572.8 471.6,587.2 492.8,605.2 514.2,627.2 535.8,653.2 557.5,683.3 579.3,717.7 601.2,756.4 623.2,798.4 645.2,842.4 667.2,887.2 689.3,931.8 711.4,975.1 733.6,1016.2M305.8,565.2 325.3,561.5 345.1,560.5 365.2,562.3 385.5,567.1 406,575.1 426.8,586.6 447.8,601.6 469.1,620.3 490.5,643 512.1,669.7 533.8,700.7 555.6,736 577.6,775.6 599.6,818.6 621.6,863.4 643.7,909 665.8,954 688,997.4 710.2,1038.3M282,575.9 301.5,572.7 321.3,572.2 341.3,574.5 361.6,579.8 382.2,588.4 402.9,600.4 424,616 445.2,635.4 466.6,658.8 488.2,686.3 509.9,718.1 531.8,754.4 553.8,795 575.9,838.9 598,884.6 620.1,930.9 642.3,976.4 664.5,1019.9 686.7,1060.6M258.2,586.6 277.6,584 297.3,584 317.3,586.8 337.6,592.7 358.1,601.8 378.9,614.4 399.9,630.6 421.2,650.7 442.6,674.8 464.2,703.1 486,735.7 507.9,772.9 529.9,814.5 552,859.3 574.2,905.9 596.4,952.9 618.6,998.8 640.8,1042.5 663.1,1082.9M234.1,597.5 253.5,595.3 273.2,595.8 293.2,599.1 313.4,605.6 334,615.2 354.7,628.4 375.7,645.3 397,666 418.4,690.8 440.1,719.9 461.9,753.4 483.8,791.5 505.9,834 528.1,879.8 550.3,927.4 572.5,975 594.7,1021.4 617,1065.3 639.3,1105.4" fill="none" stroke="#000" stroke-opacity="0.8" stroke-width="2.1" stroke-linejoin="round"/>
<path d="M664.7,403.4 679.1,395.1 693.7,388.1 708.3,382.5 718.1,379.4 732.9,376.1 742.8,374.6 757.7,373.6 767.7,373.8 782.8,375.2 792.9,377 808,381 818.2,384.5 833.5,391 843.7,396.3 859,405.4 869.3,412.5 884.7,424.3 895,433.1 910.5,447.7 920.8,458.4 936.3,475.7 946.7,488.2 962.2,508.4 972.5,522.8 988,545.8 998.3,562.1 1024.1,606.2 1049.7,655 1070.2,697.5 639.3,1105.4 618.1,1067.4 597,1025.9 575.8,982.1 517.8,858.4 502,826.3 486.3,796 470.6,768.1 455,742.4 439.5,719.1 419,691.5 398.6,667.7 388.4,657.2 373.4,643.2 363.4,634.9 353.4,627.5 343.5,620.9 328.8,612.5 319.1,607.9 304.5,602.4 295,599.6 280.7,596.7 271.2,595.6 257.2,595.2 247.9,595.7 234.1,597.5 664.7,403.4Z" fill="none" stroke="#222" stroke-width="2" stroke-linejoin="round"/>
<line x1="511" y1="467" x2="511" y2="484" stroke="#2222dd" stroke-width="2.2" stroke-dasharray="none" stroke-opacity="1"/>
<circle cx="511" cy="467" r="7" fill="none" stroke="#2222dd" stroke-width="2.6" stroke-opacity="1"/>
<circle cx="511" cy="474" r="3" fill="#2222dd" fill-opacity="1"/>
<circle cx="659" cy="427" r="7" fill="none" stroke="#2222dd" stroke-width="2.6" stroke-opacity="1"/>
<line x1="805" y1="482" x2="805" y2="452" stroke="#8a1aa0" stroke-width="2.2" stroke-dasharray="3,2.5" stroke-opacity="1"/>
<circle cx="805" cy="482" r="7" fill="none" stroke="#8a1aa0" stroke-width="2.6" stroke-opacity="1"/>
<circle cx="652" cy="538" r="7" fill="none" stroke="#2222dd" stroke-width="2.6" stroke-opacity="1"/>
<circle cx="652" cy="556" r="7" fill="none" stroke="#2222dd" stroke-width="2.6" stroke-opacity="1"/>
<circle cx="652" cy="547" r="3" fill="#2222dd" fill-opacity="1"/>
<line x1="864" y1="553" x2="864" y2="605" stroke="#2222dd" stroke-width="2.2" stroke-dasharray="3,2.5" stroke-opacity="1"/>
<circle cx="864" cy="553" r="7" fill="none" stroke="#2222dd" stroke-width="2.6" stroke-opacity="1"/>
<circle cx="441" cy="568" r="7" fill="none" stroke="#a01a80" stroke-width="2.6" stroke-opacity="0.8"/>
<circle cx="494" cy="660" r="7" fill="none" stroke="#2222dd" stroke-width="2.6" stroke-opacity="1"/>
<line x1="646" y1="750" x2="646" y2="785" stroke="#2222dd" stroke-width="2.2" stroke-dasharray="3,2.5" stroke-opacity="1"/>
<circle cx="646" cy="750" r="7" fill="none" stroke="#2222dd" stroke-width="2.6" stroke-opacity="1"/>
<circle cx="646" cy="757" r="3" fill="#2222dd" fill-opacity="1"/>
<line x1="797" y1="800" x2="797" y2="772" stroke="#608080" stroke-width="2.2" stroke-dasharray="3,2.5" stroke-opacity="0.5"/>
<circle cx="797" cy="800" r="7" fill="none" stroke="#608080" stroke-width="2.6" stroke-opacity="0.5"/>
<g class="tk"><text transform="matrix(0.9039,-0.3931,0.0412,1.0147,216.7,851.1)" font-size="30" text-anchor="middle" dominant-baseline="central" fill="#2b2b2b">0</text>
<text transform="matrix(0.9146,-0.3879,0.0433,1.0305,198.5,784.6)" font-size="30" text-anchor="middle" dominant-baseline="central" fill="#2b2b2b">200</text>
<text transform="matrix(0.9214,-0.3807,0.0440,1.0450,195.4,710.5)" font-size="30" text-anchor="middle" dominant-baseline="central" fill="#2b2b2b">400</text>
<text transform="matrix(0.9284,-0.3733,0.0446,1.0598,192.2,635.3)" font-size="30" text-anchor="middle" dominant-baseline="central" fill="#2b2b2b">600</text>
<text transform="matrix(0.9354,-0.3656,0.0452,1.0750,189.0,559.1)" font-size="30" text-anchor="middle" dominant-baseline="central" fill="#2b2b2b">800</text>
<text transform="matrix(0.9447,-0.3585,0.0467,1.0914,177.9,484.7)" font-size="30" text-anchor="middle" dominant-baseline="central" fill="#2b2b2b">1000</text>
<text transform="matrix(0.9520,-0.3503,0.0474,1.1072,174.5,406.2)" font-size="30" text-anchor="middle" dominant-baseline="central" fill="#2b2b2b">1200</text>
<text transform="matrix(0.9391,-0.4189,0.7603,0.4466,202.3,934.1)" font-size="30" text-anchor="middle" dominant-baseline="central" fill="#2b2b2b">-2.0</text>
<text transform="matrix(0.9411,-0.4263,0.7738,0.4545,248.4,961.1)" font-size="30" text-anchor="middle" dominant-baseline="central" fill="#2b2b2b">-1.5</text>
<text transform="matrix(0.9431,-0.4339,0.7877,0.4627,295.2,988.6)" font-size="30" text-anchor="middle" dominant-baseline="central" fill="#2b2b2b">-1.0</text>
<text transform="matrix(0.9449,-0.4418,0.8020,0.4711,342.9,1016.7)" font-size="30" text-anchor="middle" dominant-baseline="central" fill="#2b2b2b">-0.5</text>
<text transform="matrix(0.9453,-0.4492,0.8169,0.4791,396.2,1042.9)" font-size="30" text-anchor="middle" dominant-baseline="central" fill="#2b2b2b">0.0</text>
<text transform="matrix(0.9470,-0.4574,0.8320,0.4879,445.6,1071.9)" font-size="30" text-anchor="middle" dominant-baseline="central" fill="#2b2b2b">0.5</text>
<text transform="matrix(0.9485,-0.4659,0.8475,0.4970,496.0,1101.5)" font-size="30" text-anchor="middle" dominant-baseline="central" fill="#2b2b2b">1.0</text>
<text transform="matrix(0.9500,-0.4747,0.8635,0.5064,547.4,1131.6)" font-size="30" text-anchor="middle" dominant-baseline="central" fill="#2b2b2b">1.5</text>
<text transform="matrix(0.9513,-0.4837,0.8799,0.5160,599.6,1162.3)" font-size="30" text-anchor="middle" dominant-baseline="central" fill="#2b2b2b">2.0</text>
<text transform="matrix(0.8974,0.4513,-0.8210,0.4232,1103.2,949.0)" font-size="30" text-anchor="middle" dominant-baseline="central" fill="#2b2b2b">-2.0</text>
<text transform="matrix(0.8974,0.4588,-0.8346,0.4303,1053.6,974.6)" font-size="30" text-anchor="middle" dominant-baseline="central" fill="#2b2b2b">-1.5</text>
<text transform="matrix(0.8974,0.4666,-0.8486,0.4375,1003.1,1000.6)" font-size="30" text-anchor="middle" dominant-baseline="central" fill="#2b2b2b">-1.0</text>
<text transform="matrix(0.8972,0.4745,-0.8630,0.4449,951.7,1027.1)" font-size="30" text-anchor="middle" dominant-baseline="central" fill="#2b2b2b">-0.5</text>
<text transform="matrix(0.8954,0.4819,-0.8777,0.4518,895.0,1051.6)" font-size="30" text-anchor="middle" dominant-baseline="central" fill="#2b2b2b">0.0</text>
<text transform="matrix(0.8950,0.4902,-0.8928,0.4596,841.9,1079.0)" font-size="30" text-anchor="middle" dominant-baseline="central" fill="#2b2b2b">0.5</text>
<text transform="matrix(0.8943,0.4988,-0.9083,0.4676,787.9,1106.8)" font-size="30" text-anchor="middle" dominant-baseline="central" fill="#2b2b2b">1.0</text>
<text transform="matrix(0.8935,0.5075,-0.9242,0.4758,732.9,1135.1)" font-size="30" text-anchor="middle" dominant-baseline="central" fill="#2b2b2b">1.5</text>
<text transform="matrix(0.8925,0.5166,-0.9405,0.4842,677.0,1163.9)" font-size="30" text-anchor="middle" dominant-baseline="central" fill="#2b2b2b">2.0</text>
<text transform="matrix(0.7642,0.4596,-0.6957,0.3300,316.7,1075.4)" font-size="30" text-anchor="middle" dominant-baseline="central" fill="#2b2b2b">Base oil viscosity</text>
<text transform="matrix(0.8283,-0.4364,0.6602,0.3565,954.7,1095.0)" font-size="30" text-anchor="middle" dominant-baseline="central" fill="#2b2b2b">CNF concentration</text>
<text transform="translate(107.5,700) rotate(87.9)" font-size="32.5" text-anchor="middle" dominant-baseline="central" textLength="362.5" lengthAdjust="spacingAndGlyphs" fill="#2b2b2b">Wear scar diameter (µm)</text></g>
</g>
<g id="pb">
<path d="M1349.8,924.3 1758.1,719 2189.4,911.3M1346.9,850.4 1758,648.7 2192.4,837.7M1343.9,775.4 1758,577.4 2195.5,763.2M1340.8,699.3 1757.9,505.3 2198.5,687.5M1337.7,622.2 1757.9,432.1 2201.7,610.8M1334.6,543.9 1757.8,357.9 2204.8,533M1331.4,464.4 1757.8,282.8 2208.1,454M1328.2,383.8 1757.7,206.5 2211.3,373.9M1758.1,719 1757.7,206.5M1710,743.1 1707.4,227.3M1809.1,741.7 1811.2,226.3M1661.2,767.7 1656.1,248.5M1860.9,764.8 1865.6,246.3M1611.5,792.7 1603.9,270M1913.5,788.3 1920.9,266.7M1561,818.1 1550.8,291.9M1967,812.1 1977.1,287.5M1509.6,843.9 1496.7,314.3M2021.3,836.3 2034.2,308.5M1457.3,870.3 1441.6,337M2076.4,860.9 2092.2,329.9M1404,897.1 1385.4,360.2M2132.5,885.9 2151.3,351.7M1349.8,924.3 1328.2,383.8M2189.4,911.3 2211.3,373.9" fill="none" stroke="#e8e8e8" stroke-width="2.4"/>
<path d="M1349.8,924.3 1785.9,1145.7 2189.4,911.3 1758.1,719Z" fill="#00a078"/>
<path d="M1760.6,720.1 2189.4,911.3 1923.7,1065.7 1834.7,1104.8 1764.7,1134.9 1349.8,924.3 1758.1,719Z" fill="#00c864"/>
<path d="M1760.6,720.1 2189.4,911.3 2098.9,963.9 1994.1,1009.5 1895.1,1051.4 1803.8,1088.5 1729.7,1117.2 1349.8,924.3 1758.1,719Z" fill="#00f048"/>
<path d="M1760.6,720.1 2176.8,905.6 2107.1,935.3 2032.6,966.4 1962.3,994.7 1906.5,1016.5 1850.5,1037.6 1792.8,1058.3 1739.1,1076.6 1684.4,1094.2 1349.8,924.3 1758.1,719Z" fill="#d8f545"/>
<path d="M1760.6,720.1 2162.2,899.1 2081.3,932.5 2013.5,959.6 1950,984 1890.9,1005.7 1831.6,1026.4 1771.9,1046.1 1712.8,1064.3 1657.1,1080.3 1349.8,924.3 1758.1,719Z" fill="#fae84a"/>
<path d="M1760.6,720.1 2138.5,888.6 2069.2,915.5 1998.8,941.6 1930.9,965.4 1868.4,986 1810.4,1003.8 1746,1022.2 1685.6,1038.1 1610.3,1056.6 1349.8,924.3 1758.1,719Z" fill="#f8a050"/>
<path d="M1760.6,720.1 2109.8,875.7 2043.3,899.2 1981.1,919.9 1916.1,940 1854.8,957.5 1790.9,974.2 1726,989.9 1636.5,1010.1 1553.6,1027.8 1367.6,933.4 1383.6,917.6 1407.3,895.4 1758.1,719Z" fill="#fa5a5a"/>
<path d="M1760.6,720.1 2059.7,853.4 2018.6,865.3 1979.5,875.8 1942.3,885.2 1898.1,895.6 1855.8,904.9 1807.1,914.8 1760.5,923.5 1723.2,929.7 1687.8,935 1661.1,938.3 1636,940.7 1613,942 1592.4,942.1 1574.6,940.6 1559.8,937.6 1550.8,934.2 1543.7,929.9 1540,926.5 1537.2,922.7 1535.2,918.4 1533.9,913.2 1533.8,906 1534.8,900.2 1537.7,890.9 1540.6,884.2 1546.5,873.5 1551.4,865.9 1560,853.8 1577.9,832.1 1599.7,808.5 1619.7,788.5 1758.1,719Z" fill="#e85a5a"/>
<path d="M1760.6,720.1 2055.9,851.7 2019.4,862.1 1980.8,872.3 1944.2,881.4 1900.5,891.5 1818.5,908.6 1772.2,917.1 1735.3,923.2 1700.3,928.3 1673.8,931.5 1649.1,933.8 1626.3,935 1606,934.9 1592.5,933.9 1577.2,931.2 1567.7,928.1 1560.1,924 1556.1,920.8 1552.8,917.2 1550.4,913.2 1548.9,908.7 1548.2,903.8 1548.3,898.5 1549.9,889.8 1555,876.9 1558.7,869.8 1565.6,858.6 1580.8,838.2 1600,815.8 1613.4,801.6 1633.2,781.8 1758.1,719Z" fill="#d25858"/>
<path d="M1349.8,924.3 1485.7,855.6 1457,879 1439,905 1423.3,931 1412.9,951.9Z" fill="#f8a050"/>
<path d="M1809.1,741.7 1401.2,950.4M1710,743.1 2142.2,938.7M1860.9,764.8 1453.4,976.9M1661.2,767.7 2094.1,966.7M1913.5,788.3 1506.5,1003.9M1611.5,792.7 2045.1,995.1M1967,812.1 1560.5,1031.3M1561,818.1 1995.2,1024.1M2021.3,836.3 1615.4,1059.2M1509.6,843.9 1944.3,1053.7M2076.4,860.9 1671.3,1087.5M1457.3,870.3 1892.5,1083.8M2132.5,885.9 1728.1,1116.4M1404,897.1 1839.7,1114.4" fill="none" stroke="#000" stroke-opacity="0.06" stroke-width="2"/>
<path d="M1349.8,924.3 1785.9,1145.7 2189.4,911.3" fill="none" stroke="#1a1a1a" stroke-width="2.2" stroke-linejoin="round"/>
<path d="M1401.2,950.4 1408.8,946.5M2142.2,938.7 2134.1,935.1M1453.4,976.9 1461.1,972.9M2094.1,966.7 2086,963M1506.5,1003.9 1514.2,999.8M2045.1,995.1 2037,991.4M1560.5,1031.3 1568.2,1027.2M1995.2,1024.1 1987.1,1020.3M1615.4,1059.2 1623.1,1055M1944.3,1053.7 1936.2,1049.8M1671.3,1087.5 1678.9,1083.3M1892.5,1083.8 1884.4,1079.8M1728.1,1116.4 1735.7,1112M1839.7,1114.4 1831.6,1110.4" fill="none" stroke="#1a1a1a" stroke-width="2.6"/>
<path d="M1349.8,924.3 1328.2,383.8M1346.9,850.4 1357.9,845M1343.9,775.4 1355,770.1M1340.8,699.3 1352,694.1M1337.7,622.2 1349,617.1M1334.6,543.9 1346,538.9M1331.4,464.4 1342.9,459.5M1328.2,383.8 1339.8,379" fill="none" stroke="#555" stroke-width="2.4"/>
<g><path d="M1757.8,322.3 1773.6,316.6 1786.9,313 1800.2,310.6 1813.6,309.2 1827,309 1840.5,309.8 1854.1,311.8 1867.7,314.9 1881.4,319 1895.1,324.3 1908.9,330.7 1922.7,338.2 1936.5,346.7 1950.3,356.4 1964.2,367.1 1980.9,381.5 1994.8,394.6 2011.6,411.7 2025.5,427.1 2039.5,443.7 2053.4,461.4 2067.4,480.3 2081.3,500.4 2095.3,521.8 2109.2,544.4 2123,568.4 2147.9,615 2172.6,666.1 2197.1,721.9 1786.1,1061.7 1774.4,1034.8 1762.7,1009.6 1750.9,986.2 1739.2,964.1 1727.5,943.4 1712.9,919.1 1698.3,896.3 1683.7,874.6 1666.3,850 1648.9,826.6 1628.6,800.6 1605.6,772.1 1579.8,741.1 1559.9,717.8 1540,696 1523,678.6 1509,665.2 1497.8,655.5 1486.7,646.6 1475.6,638.6 1464.6,631.6 1453.6,625.6 1442.7,620.6 1429.2,615.8 1418.4,613 1407.8,611.1 1397.2,610.2 1384,610.4 1373.6,611.5 1360.7,614.3 1350.4,617.5 1337.8,622.7 1757.8,322.3Z" fill="#00a078"/><path d="M1759.9,321.5 1774.7,316.3 1787.4,312.9 1802.3,310.3 1815.2,309.1 1828.1,309 1841.1,309.9 1854.1,311.8 1869.4,315.3 1882.5,319.4 1897.9,325.5 1911.1,331.8 1926.5,340.5 1939.8,349 1955.3,360.1 1968.7,370.8 1984.3,384.5 1999.9,399.5 2013.2,413.5 2028.9,431 2042.3,447.1 2055.7,464.3 2069.1,482.6 2082.5,502.1 2095.8,522.7 2109.2,544.4 2122.5,567.4 2146.8,612.8 2160,639.4 2173.2,667.3 2197.1,721.9 1893.8,972.7 1770,1025.1 1748.6,981.6 1736.9,959.9 1725.2,939.4 1699.4,898.1 1685.5,877.2 1669.2,854 1650.6,828.9 1629.8,802.1 1579.3,740.4 1561,719.1 1542.8,699 1527,682.5 1513.5,669.4 1491.1,650 1480,641.7 1469,634.3 1458,627.9 1447,622.5 1436.2,618.1 1425.4,614.7 1414.7,612.2 1404,610.7 1393.5,610.1 1380.9,610.6 1370.5,612.1 1360.2,614.4 1349.9,617.6 1337.8,622.7 1757.8,322.3Z" fill="#00c864"/><path d="M1759.9,321.5 1774.7,316.3 1787.4,312.9 1802.3,310.3 1815.2,309.1 1828.1,309 1841.1,309.9 1854.1,311.8 1869.4,315.3 1882.5,319.4 1897.9,325.5 1911.1,331.8 1926.5,340.5 1939.8,349 1955.3,360.1 1968.7,370.8 1984.3,384.5 1999.9,399.5 2013.2,413.5 2028.9,431 2042.3,447.1 2055.7,464.3 2069.1,482.6 2082.5,502.1 2095.8,522.7 2109.2,544.4 2122.5,567.4 2146.8,612.8 2160,639.4 2173.2,667.3 2197.1,721.9 2035.6,855.4 1897.9,912.6 1817.6,944.8 1744.1,973.2 1722.8,935.5 1699.4,898.1 1673.8,860.5 1643.7,819.8 1604.5,770.7 1561,719.1 1545.1,701.4 1529.2,684.8 1515.7,671.5 1502.3,659.3 1491.1,650 1480,641.7 1471.2,635.7 1460.2,629.1 1451.4,624.6 1440.5,619.8 1429.7,615.9 1419,613.1 1410.4,611.5 1399.8,610.3 1389.3,610.1 1378.8,610.8 1368.4,612.5 1358.1,615 1347.9,618.4 1337.8,622.7 1757.8,322.3Z" fill="#00e060"/><path d="M1759.9,321.5 1778.9,315 1795.9,311.2 1815.2,309.1 1832.4,309.2 1849.8,311 1867.2,314.7 1884.7,320.2 1904.5,328.5 1922.1,337.9 1942,350.5 1959.8,363.6 1979.8,380.5 1999.9,399.5 2017.7,418.3 2035.6,438.9 2053.4,461.4 2073.5,489 2091.4,515.7 2109.2,544.4 2126.9,575.4 2144.6,608.5 2162.2,644 2179.7,681.7 2197.1,721.9 2171.3,743.2 2104.2,770.8 1990.8,816.3 1885.8,856.9 1790.8,891.7 1712.5,918.5 1687.8,880.6 1662.2,844.4 1634.4,807.9 1597.6,762.4 1565.6,724.4 1538.3,694.2 1513.5,669.4 1491.1,650 1480,641.7 1471.2,635.7 1453.6,625.6 1444.9,621.6 1434,617.4 1425.4,614.7 1414.7,612.2 1406.2,610.9 1395.6,610.1 1387.2,610.2 1376.7,611.1 1368.4,612.5 1358.1,615 1347.9,618.4 1337.8,622.7 1757.8,322.3Z" fill="#00f050"/><path d="M1759.9,321.5 1774.7,316.3 1787.4,312.9 1800.2,310.6 1813,309.2 1825.9,308.9 1838.9,309.7 1851.9,311.4 1865,314.2 1878.1,317.9 1891.3,322.7 1904.5,328.5 1917.7,335.4 1930.9,343.2 1944.2,352 1957.6,361.9 1973.1,374.6 1986.5,386.6 2002.1,401.8 2015.5,415.9 2028.9,431 2042.3,447.1 2055.7,464.3 2069.1,482.6 2082.5,502.1 2095.8,522.7 2109.2,544.4 2133.5,587.5 2157.8,634.9 2180.8,684 2111.3,711.3 2037.2,739.6 1967.4,765.5 1902.2,788.7 1841.6,809.3 1785.2,827.6 1732.5,843.7 1673.9,860.6 1650.6,828.9 1625.2,796.3 1588.4,751.3 1558.7,716.6 1536,691.8 1515.7,671.5 1497.8,655.5 1480,641.7 1462.4,630.3 1444.9,621.6 1427.6,615.3 1419,613.1 1408.3,611.2 1391.4,610.1 1383,610.4 1372.6,611.7 1356.1,615.6 1347.9,618.4 1337.8,622.7 1757.8,322.3Z" fill="#d2f545"/><path d="M1759.9,321.5 1772.5,316.9 1785.3,313.4 1798,310.9 1808.7,309.6 1821.6,308.9 1834.6,309.3 1845.4,310.4 1858.5,312.6 1869.4,315.3 1882.5,319.4 1895.7,324.6 1908.9,330.7 1919.9,336.6 1933.2,344.6 1946.5,353.6 1959.8,363.6 1970.9,372.7 1984.3,384.5 1997.6,397.3 2011,411.1 2024.4,425.8 2037.8,441.6 2062.4,473.3 2086.9,508.8 2111.4,548.2 2133.5,587.5 2157.3,633.8 2078.7,662.4 2014.9,684.7 1943.8,708.4 1878.3,729.1 1817.6,747 1752.1,765 1691.2,780.5 1625.1,796.1 1595.3,759.6 1570.1,729.6 1549.6,706.4 1531.5,687.1 1513.5,669.4 1497.8,655.5 1482.2,643.2 1466.8,632.9 1451.4,624.6 1434,617.4 1419,613.1 1401.9,610.5 1387.2,610.2 1370.5,612.1 1354,616.2 1337.8,622.7 1757.8,322.3Z" fill="#fae84a"/><path d="M1759.9,321.5 1772.5,316.9 1783.1,313.9 1793.8,311.6 1804.5,310 1817.3,309 1828.1,309 1838.9,309.7 1849.8,311 1860.6,313.1 1871.5,315.9 1882.5,319.4 1895.7,324.6 1906.7,329.6 1919.9,336.6 1930.9,343.2 1944.2,352 1955.3,360.1 1968.7,370.8 1993.2,392.9 2017.7,418.3 2040,444.4 2062.4,473.3 2084.7,505.4 2106.9,540.7 2129.6,580.2 2057,604.1 1992.3,624.2 1922.8,644.4 1858.8,661.6 1799.3,676.4 1735.4,691.1 1659.1,707.4 1567.1,726.2 1549.6,706.4 1531.5,687.1 1515.7,671.5 1502.3,659.3 1488.9,648.3 1475.6,638.6 1462.4,630.3 1449.2,623.5 1436.2,618.1 1421.1,613.6 1408.3,611.2 1393.5,610.1 1380.9,610.6 1366.3,612.9 1354,616.2 1340,621.7 1345.7,617 1757.8,322.3Z" fill="#f8a050"/><path d="M1759.9,321.5 1770.4,317.6 1781,314.5 1791.6,312 1802.3,310.3 1813,309.2 1823.8,308.9 1843.2,310.1 1854.1,311.8 1865,314.2 1875.9,317.2 1886.9,321 1897.9,325.5 1908.9,330.7 1930.9,343.2 1953.1,358.5 1975.3,376.5 1997.6,397.3 2019.9,420.8 2042.3,447.1 2062.4,473.3 2082.5,502.1 2103.6,535.2 2028.3,557.3 1963.9,574.7 1896.2,591.5 1833.3,605.7 1744.8,623.8 1646.5,642.2 1567,655.4 1507.1,663.5 1491.1,650 1475.6,638.6 1462.4,630.3 1447,622.5 1434,617.4 1419,613.1 1404,610.7 1389.6,610.1 1396.2,601 1403.8,591.8 1422.4,571.9 1446.4,549.4 1477,523.1 1757.8,322.3Z" fill="#f55a5a"/><path d="M1759.9,321.5 1770.4,317.6 1781,314.5 1800.2,310.6 1819.5,309 1838.9,309.7 1858.5,312.6 1878.1,317.9 1897.9,325.5 1908.9,330.7 1919.9,336.6 1939.8,349 1962,365.4 1982,382.5 2004.3,404.1 2024.4,425.8 2044.5,449.9 2064.6,476.4 2084.7,505.5 2038.4,518.1 1986.5,531.3 1937.8,542.8 1891.8,552.8 1840.7,563.3 1784.7,573.9 1730.8,583.4 1679,591.7 1636,597.9 1601.3,602.1 1569.1,605.1 1544.7,606.4 1523.1,606.4 1504.6,605 1489.6,602.1 1482.2,599.5 1478,597.5 1472.8,593.9 1470.1,591.3 1468,588.3 1465.9,583.4 1465.2,579.3 1465.4,573.9 1467.9,564.5 1473.5,553 1482.7,539.3 1495.6,523.9 1513.7,505.1 1534.3,485.8 1558.6,464.8 1757.8,322.3Z" fill="#f55a5a"/><path d="M1759.9,321.5 1770.4,317.6 1781,314.5 1800.2,310.6 1810.9,309.4 1821.6,308.9 1841.1,309.9 1860.6,313.1 1871.5,315.9 1882.5,319.4 1902.3,327.5 1913.3,333 1924.3,339.1 1944.2,352 1966.4,369 1988.7,388.7 2011,411.1 2033.3,436.3 2053.4,461.4 2073.5,489 2093.3,518.6 2046.4,531.9 2000.9,544.1 1994.3,544.5 1953.1,539.6 1830.6,523.3 1784.3,518.1 1703.5,510 1670.5,505.9 1648.1,502.1 1631.5,498.2 1617.6,493.7 1606.5,488.4 1599.3,483.6 1594,478.2 1590.7,472.4 1589.5,468.7 1589.1,464.9 1589.7,458.1 1592.7,449.6 1597.9,440.7 1605.2,431.4 1757.8,322.3Z" fill="#c85a5a"/></g>
<clipPath id="fcb"><path d="M1349.8,924.3 1660,768.3 1700,748.2 1730,733 1745,725 1757,721.5 1775,727.5 1809,746 1854.5,763 1899.7,782.2 2189.4,911.3 1785.9,1145.7Z"/></clipPath>
<g clip-path="url(#fcb)"><path d="M1757.8,322.3 1773.6,316.6 1786.9,313 1800.2,310.6 1813.6,309.2 1827,309 1840.5,309.8 1854.1,311.8 1867.7,314.9 1881.4,319 1895.1,324.3 1908.9,330.7 1922.7,338.2 1936.5,346.7 1950.3,356.4 1964.2,367.1 1980.9,381.5 1994.8,394.6 2011.6,411.7 2025.5,427.1 2039.5,443.7 2053.4,461.4 2067.4,480.3 2081.3,500.4 2095.3,521.8 2109.2,544.4 2123,568.4 2147.9,615 2172.6,666.1 2197.1,721.9 1786.1,1061.7 1774.4,1034.8 1762.7,1009.6 1750.9,986.2 1739.2,964.1 1727.5,943.4 1712.9,919.1 1698.3,896.3 1683.7,874.6 1666.3,850 1648.9,826.6 1628.6,800.6 1605.6,772.1 1579.8,741.1 1559.9,717.8 1540,696 1523,678.6 1509,665.2 1497.8,655.5 1486.7,646.6 1475.6,638.6 1464.6,631.6 1453.6,625.6 1442.7,620.6 1429.2,615.8 1418.4,613 1407.8,611.1 1397.2,610.2 1384,610.4 1373.6,611.5 1360.7,614.3 1350.4,617.5 1337.8,622.7 1757.8,322.3Z" fill="#108850"/><path d="M1759.9,321.5 1774.7,316.3 1787.4,312.9 1802.3,310.3 1815.2,309.1 1828.1,309 1841.1,309.9 1854.1,311.8 1869.4,315.3 1882.5,319.4 1897.9,325.5 1911.1,331.8 1926.5,340.5 1939.8,349 1955.3,360.1 1968.7,370.8 1984.3,384.5 1999.9,399.5 2013.2,413.5 2028.9,431 2042.3,447.1 2055.7,464.3 2069.1,482.6 2082.5,502.1 2095.8,522.7 2109.2,544.4 2122.5,567.4 2146.8,612.8 2160,639.4 2173.2,667.3 2197.1,721.9 1893.8,972.7 1770,1025.1 1748.6,981.6 1736.9,959.9 1725.2,939.4 1699.4,898.1 1685.5,877.2 1669.2,854 1650.6,828.9 1629.8,802.1 1579.3,740.4 1561,719.1 1542.8,699 1527,682.5 1513.5,669.4 1491.1,650 1480,641.7 1469,634.3 1458,627.9 1447,622.5 1436.2,618.1 1425.4,614.7 1414.7,612.2 1404,610.7 1393.5,610.1 1380.9,610.6 1370.5,612.1 1360.2,614.4 1349.9,617.6 1337.8,622.7 1757.8,322.3Z" fill="#00a040"/><path d="M1759.9,321.5 1774.7,316.3 1787.4,312.9 1802.3,310.3 1815.2,309.1 1828.1,309 1841.1,309.9 1854.1,311.8 1869.4,315.3 1882.5,319.4 1897.9,325.5 1911.1,331.8 1926.5,340.5 1939.8,349 1955.3,360.1 1968.7,370.8 1984.3,384.5 1999.9,399.5 2013.2,413.5 2028.9,431 2042.3,447.1 2055.7,464.3 2069.1,482.6 2082.5,502.1 2095.8,522.7 2109.2,544.4 2122.5,567.4 2146.8,612.8 2160,639.4 2173.2,667.3 2197.1,721.9 2035.6,855.4 1897.9,912.6 1817.6,944.8 1744.1,973.2 1722.8,935.5 1699.4,898.1 1673.8,860.5 1643.7,819.8 1604.5,770.7 1561,719.1 1545.1,701.4 1529.2,684.8 1515.7,671.5 1502.3,659.3 1491.1,650 1480,641.7 1471.2,635.7 1460.2,629.1 1451.4,624.6 1440.5,619.8 1429.7,615.9 1419,613.1 1410.4,611.5 1399.8,610.3 1389.3,610.1 1378.8,610.8 1368.4,612.5 1358.1,615 1347.9,618.4 1337.8,622.7 1757.8,322.3Z" fill="#00b020"/><path d="M1759.9,321.5 1778.9,315 1795.9,311.2 1815.2,309.1 1832.4,309.2 1849.8,311 1867.2,314.7 1884.7,320.2 1904.5,328.5 1922.1,337.9 1942,350.5 1959.8,363.6 1979.8,380.5 1999.9,399.5 2017.7,418.3 2035.6,438.9 2053.4,461.4 2073.5,489 2091.4,515.7 2109.2,544.4 2126.9,575.4 2144.6,608.5 2162.2,644 2179.7,681.7 2197.1,721.9 2171.3,743.2 2104.2,770.8 1990.8,816.3 1885.8,856.9 1790.8,891.7 1712.5,918.5 1687.8,880.6 1662.2,844.4 1634.4,807.9 1597.6,762.4 1565.6,724.4 1538.3,694.2 1513.5,669.4 1491.1,650 1480,641.7 1471.2,635.7 1453.6,625.6 1444.9,621.6 1434,617.4 1425.4,614.7 1414.7,612.2 1406.2,610.9 1395.6,610.1 1387.2,610.2 1376.7,611.1 1368.4,612.5 1358.1,615 1347.9,618.4 1337.8,622.7 1757.8,322.3Z" fill="#00c000"/><path d="M1759.9,321.5 1774.7,316.3 1787.4,312.9 1800.2,310.6 1813,309.2 1825.9,308.9 1838.9,309.7 1851.9,311.4 1865,314.2 1878.1,317.9 1891.3,322.7 1904.5,328.5 1917.7,335.4 1930.9,343.2 1944.2,352 1957.6,361.9 1973.1,374.6 1986.5,386.6 2002.1,401.8 2015.5,415.9 2028.9,431 2042.3,447.1 2055.7,464.3 2069.1,482.6 2082.5,502.1 2095.8,522.7 2109.2,544.4 2133.5,587.5 2157.8,634.9 2180.8,684 2111.3,711.3 2037.2,739.6 1967.4,765.5 1902.2,788.7 1841.6,809.3 1785.2,827.6 1732.5,843.7 1673.9,860.6 1650.6,828.9 1625.2,796.3 1588.4,751.3 1558.7,716.6 1536,691.8 1515.7,671.5 1497.8,655.5 1480,641.7 1462.4,630.3 1444.9,621.6 1427.6,615.3 1419,613.1 1408.3,611.2 1391.4,610.1 1383,610.4 1372.6,611.7 1356.1,615.6 1347.9,618.4 1337.8,622.7 1757.8,322.3Z" fill="#c8c800"/><path d="M1759.9,321.5 1772.5,316.9 1785.3,313.4 1798,310.9 1808.7,309.6 1821.6,308.9 1834.6,309.3 1845.4,310.4 1858.5,312.6 1869.4,315.3 1882.5,319.4 1895.7,324.6 1908.9,330.7 1919.9,336.6 1933.2,344.6 1946.5,353.6 1959.8,363.6 1970.9,372.7 1984.3,384.5 1997.6,397.3 2011,411.1 2024.4,425.8 2037.8,441.6 2062.4,473.3 2086.9,508.8 2111.4,548.2 2133.5,587.5 2157.3,633.8 2078.7,662.4 2014.9,684.7 1943.8,708.4 1878.3,729.1 1817.6,747 1752.1,765 1691.2,780.5 1625.1,796.1 1595.3,759.6 1570.1,729.6 1549.6,706.4 1531.5,687.1 1513.5,669.4 1497.8,655.5 1482.2,643.2 1466.8,632.9 1451.4,624.6 1434,617.4 1419,613.1 1401.9,610.5 1387.2,610.2 1370.5,612.1 1354,616.2 1337.8,622.7 1757.8,322.3Z" fill="#f5b400"/><path d="M1759.9,321.5 1772.5,316.9 1783.1,313.9 1793.8,311.6 1804.5,310 1817.3,309 1828.1,309 1838.9,309.7 1849.8,311 1860.6,313.1 1871.5,315.9 1882.5,319.4 1895.7,324.6 1906.7,329.6 1919.9,336.6 1930.9,343.2 1944.2,352 1955.3,360.1 1968.7,370.8 1993.2,392.9 2017.7,418.3 2040,444.4 2062.4,473.3 2084.7,505.4 2106.9,540.7 2129.6,580.2 2057,604.1 1992.3,624.2 1922.8,644.4 1858.8,661.6 1799.3,676.4 1735.4,691.1 1659.1,707.4 1567.1,726.2 1549.6,706.4 1531.5,687.1 1515.7,671.5 1502.3,659.3 1488.9,648.3 1475.6,638.6 1462.4,630.3 1449.2,623.5 1436.2,618.1 1421.1,613.6 1408.3,611.2 1393.5,610.1 1380.9,610.6 1366.3,612.9 1354,616.2 1340,621.7 1345.7,617 1757.8,322.3Z" fill="#ff6010"/><path d="M1759.9,321.5 1770.4,317.6 1781,314.5 1791.6,312 1802.3,310.3 1813,309.2 1823.8,308.9 1843.2,310.1 1854.1,311.8 1865,314.2 1875.9,317.2 1886.9,321 1897.9,325.5 1908.9,330.7 1930.9,343.2 1953.1,358.5 1975.3,376.5 1997.6,397.3 2019.9,420.8 2042.3,447.1 2062.4,473.3 2082.5,502.1 2103.6,535.2 2028.3,557.3 1963.9,574.7 1896.2,591.5 1833.3,605.7 1744.8,623.8 1646.5,642.2 1567,655.4 1507.1,663.5 1491.1,650 1475.6,638.6 1462.4,630.3 1447,622.5 1434,617.4 1419,613.1 1404,610.7 1389.6,610.1 1396.2,601 1403.8,591.8 1422.4,571.9 1446.4,549.4 1477,523.1 1757.8,322.3Z" fill="#e84040"/><path d="M1759.9,321.5 1770.4,317.6 1781,314.5 1800.2,310.6 1819.5,309 1838.9,309.7 1858.5,312.6 1878.1,317.9 1897.9,325.5 1908.9,330.7 1919.9,336.6 1939.8,349 1962,365.4 1982,382.5 2004.3,404.1 2024.4,425.8 2044.5,449.9 2064.6,476.4 2084.7,505.5 2038.4,518.1 1986.5,531.3 1937.8,542.8 1891.8,552.8 1840.7,563.3 1784.7,573.9 1730.8,583.4 1679,591.7 1636,597.9 1601.3,602.1 1569.1,605.1 1544.7,606.4 1523.1,606.4 1504.6,605 1489.6,602.1 1482.2,599.5 1478,597.5 1472.8,593.9 1470.1,591.3 1468,588.3 1465.9,583.4 1465.2,579.3 1465.4,573.9 1467.9,564.5 1473.5,553 1482.7,539.3 1495.6,523.9 1513.7,505.1 1534.3,485.8 1558.6,464.8 1757.8,322.3Z" fill="#e84040"/><path d="M1759.9,321.5 1770.4,317.6 1781,314.5 1800.2,310.6 1810.9,309.4 1821.6,308.9 1841.1,309.9 1860.6,313.1 1871.5,315.9 1882.5,319.4 1902.3,327.5 1913.3,333 1924.3,339.1 1944.2,352 1966.4,369 1988.7,388.7 2011,411.1 2033.3,436.3 2053.4,461.4 2073.5,489 2093.3,518.6 2046.4,531.9 2000.9,544.1 1994.3,544.5 1953.1,539.6 1830.6,523.3 1784.3,518.1 1703.5,510 1670.5,505.9 1648.1,502.1 1631.5,498.2 1617.6,493.7 1606.5,488.4 1599.3,483.6 1594,478.2 1590.7,472.4 1589.5,468.7 1589.1,464.9 1589.7,458.1 1592.7,449.6 1597.9,440.7 1605.2,431.4 1757.8,322.3Z" fill="#b84848"/></g>
<path d="M1757.8,322.3 1736.9,337.2 1715.9,352.2 1694.8,367.3 1673.6,382.5 1652.2,397.8 1630.7,413.2 1609,428.7 1587.2,444.3 1565.2,460 1543.2,475.8 1520.9,491.7 1498.6,507.7 1476,523.8 1453.4,540 1430.6,556.3 1407.6,572.7 1384.5,589.3 1361.2,605.9 1337.8,622.7M1780,314.7 1759.1,329.6 1738.1,344.6 1716.9,359.7 1695.7,374.8 1674.2,390.1 1652.7,405.5 1631,421 1609.1,436.5 1587.1,452.2 1565,468 1542.7,483.8 1520.3,499.8 1497.8,515.9 1475,532.1 1452.2,548.4 1429.2,564.8 1406,581.3 1382.7,597.9 1359.2,614.7M1802.4,310.3 1781.5,325.2 1760.5,340.2 1739.3,355.3 1718,370.4 1696.5,385.7 1674.9,401.1 1653.2,416.6 1631.3,432.2 1609.3,447.9 1587.2,463.7 1564.9,479.6 1542.4,495.6 1519.8,511.7 1497,527.9 1474.1,544.2 1451.1,560.7 1427.9,577.2 1404.5,593.8 1381,610.6M1825,308.9 1804.1,323.9 1783,339 1761.8,354.1 1740.5,369.4 1719,384.7 1697.4,400.2 1675.7,415.7 1653.8,431.4 1631.7,447.1 1609.6,463 1587.2,479 1564.8,495 1542.1,511.2 1519.3,527.5 1496.4,543.9 1473.3,560.4 1450.1,577 1426.7,593.8 1403.1,610.6M1847.8,310.7 1826.9,325.8 1805.8,341 1784.6,356.3 1763.2,371.6 1741.8,387.1 1720.1,402.7 1698.4,418.4 1676.5,434.1 1654.4,450 1632.2,466 1609.9,482.1 1587.4,498.3 1564.7,514.6 1541.9,531 1519,547.5 1495.9,564.2 1472.6,580.9 1449.2,597.8 1425.6,614.7M1870.7,315.7 1849.8,330.9 1828.7,346.3 1807.5,361.7 1786.1,377.3 1764.7,392.9 1743,408.7 1721.3,424.5 1699.3,440.5 1677.3,456.5 1655.1,472.7 1632.7,489 1610.2,505.4 1587.6,521.8 1564.8,538.4 1541.8,555.2 1518.7,572 1495.4,588.9 1472,606 1448.4,623.1M1893.8,323.8 1872.9,339.3 1851.8,354.8 1830.6,370.5 1809.2,386.3 1787.7,402.2 1766.1,418.2 1744.3,434.3 1722.4,450.5 1700.3,466.8 1678.1,483.2 1655.8,499.7 1633.3,516.3 1610.6,533.1 1587.8,549.9 1564.9,566.9 1541.8,584 1518.5,601.2 1495.1,618.5 1471.5,635.9M1917,335 1896.1,350.8 1875,366.6 1853.8,382.6 1832.4,398.7 1810.9,414.9 1789.3,431.2 1767.5,447.6 1745.6,464.1 1723.6,480.7 1701.4,497.4 1679.1,514.3 1656.6,531.2 1633.9,548.3 1611.1,565.4 1588.2,582.7 1565.1,600.1 1541.8,617.6 1518.4,635.3 1494.9,653M1940.3,349.3 1919.3,365.4 1898.3,381.6 1877.1,397.9 1855.7,414.4 1834.3,430.9 1812.7,447.5 1790.9,464.3 1769,481.2 1747,498.1 1724.8,515.2 1702.5,532.4 1680,549.7 1657.4,567.1 1634.6,584.6 1611.7,602.3 1588.6,620.1 1565.4,638 1542,656 1518.5,674.1M1963.6,366.7 1942.7,383.1 1921.7,399.7 1900.5,416.4 1879.2,433.1 1857.7,450 1836.1,467 1814.4,484.1 1792.5,501.3 1770.5,518.7 1748.3,536.1 1726,553.7 1703.6,571.3 1681,589.1 1658.3,607 1635.4,625 1612.3,643.2 1589.1,661.5 1565.7,679.8 1542.2,698.3M1987.1,387.1 1966.2,403.9 1945.1,420.8 1924,437.8 1902.7,454.9 1881.3,472.1 1859.7,489.4 1838,506.8 1816.1,524.4 1794.1,542 1772,559.8 1749.7,577.7 1727.3,595.7 1704.7,613.8 1682,632 1659.2,650.4 1636.1,668.9 1613,687.5 1589.6,706.2 1566.2,725.1M2010.5,410.6 1989.7,427.6 1968.7,444.7 1947.5,462 1926.3,479.3 1904.9,496.8 1883.3,514.4 1861.7,532 1839.8,549.8 1817.9,567.8 1795.8,585.8 1773.5,603.9 1751.1,622.2 1728.6,640.6 1705.9,659.1 1683.1,677.7 1660.1,696.5 1637,715.3 1613.7,734.3 1590.2,753.5M2034.1,437.1 2013.2,454.3 1992.3,471.5 1971.2,488.9 1949.9,506.4 1928.6,524 1907,541.8 1885.4,559.6 1863.6,577.5 1841.7,595.6 1819.6,613.8 1797.4,632.1 1775.1,650.5 1752.6,669 1729.9,687.7 1707.1,706.5 1684.2,725.4 1661.1,744.4 1637.8,763.6 1614.4,782.9M2057.6,466.8 2036.8,484 2015.8,501.3 1994.8,518.8 1973.6,536.3 1952.3,553.9 1930.8,571.7 1909.2,589.6 1887.5,607.6 1865.6,625.7 1843.6,643.9 1821.4,662.2 1799.1,680.7 1776.6,699.3 1754,718 1731.2,736.8 1708.3,755.8 1685.3,774.8 1662,794.1 1638.7,813.4M2081,500 2060.3,517.1 2039.4,534.4 2018.4,551.7 1997.3,569.2 1976,586.8 1954.6,604.5 1933.1,622.3 1911.4,640.3 1889.5,658.3 1867.5,676.5 1845.4,694.8 1823.2,713.2 1800.7,731.8 1778.2,750.4 1755.5,769.2 1732.6,788.1 1709.6,807.1 1686.4,826.3 1663.1,845.6M2104.5,536.7 2083.8,553.7 2063,570.8 2042.1,588.1 2021,605.5 1999.8,622.9 1978.4,640.5 1956.9,658.3 1935.3,676.1 1913.5,694 1891.6,712.1 1869.5,730.3 1847.3,748.6 1824.9,767 1802.4,785.6 1779.7,804.2 1756.9,823 1734,842 1710.8,861 1687.5,880.2M2127.8,577.1 2107.2,593.9 2086.5,610.9 2065.6,628.1 2044.6,645.3 2023.5,662.6 2002.2,680.1 1980.7,697.6 1959.2,715.3 1937.5,733.1 1915.6,751 1893.6,769.1 1871.4,787.3 1849.1,805.5 1826.7,823.9 1804.1,842.5 1781.3,861.1 1758.4,879.9 1735.3,898.8 1712.1,917.9M2151.1,621.3 2130.6,638.1 2109.9,654.9 2089.1,671.9 2068.2,689 2047.1,706.2 2025.9,723.5 2004.5,741 1983,758.5 1961.4,776.2 1939.6,794 1917.7,811.9 1895.6,829.9 1873.4,848.1 1851,866.4 1828.5,884.8 1805.8,903.3 1782.9,922 1759.9,940.8 1736.7,959.7M2174.2,669.5 2153.8,686.3 2133.2,703.1 2112.5,720 2091.6,737.1 2070.6,754.2 2049.5,771.5 2028.2,788.9 2006.8,806.4 1985.3,824 1963.6,841.8 1941.7,859.7 1919.7,877.7 1897.6,895.8 1875.3,914 1852.8,932.4 1830.2,950.9 1807.4,969.5 1784.5,988.2 1761.4,1007.1M2197.1,721.9 2176.8,738.7 2156.3,755.7 2135.7,772.7 2114.9,789.9 2094,807.1 2073,824.5 2051.8,842 2030.5,859.7 2009,877.4 1987.4,895.3 1965.6,913.2 1943.7,931.4 1921.7,949.6 1899.5,967.9 1877.1,986.4 1854.6,1005 1831.9,1023.8 1809.1,1042.6 1786.1,1061.7" fill="none" stroke="#000" stroke-opacity="0.8" stroke-width="2.1" stroke-linejoin="round"/>
<path d="M1757.8,322.3 1780,314.7 1802.4,310.3 1825,308.9 1847.8,310.7 1870.7,315.7 1893.8,323.8 1917,335 1940.3,349.3 1963.6,366.7 1987.1,387.1 2010.5,410.6 2034.1,437.1 2057.6,466.8 2081,500 2104.5,536.7 2127.8,577.1 2151.1,621.3 2174.2,669.5 2197.1,721.9M1736.9,337.2 1759.1,329.6 1781.5,325.2 1804.1,323.9 1826.9,325.8 1849.8,330.9 1872.9,339.3 1896.1,350.8 1919.3,365.4 1942.7,383.1 1966.2,403.9 1989.7,427.6 2013.2,454.3 2036.8,484 2060.3,517.1 2083.8,553.7 2107.2,593.9 2130.6,638.1 2153.8,686.3 2176.8,738.7M1715.9,352.2 1738.1,344.6 1760.5,340.2 1783,339 1805.8,341 1828.7,346.3 1851.8,354.8 1875,366.6 1898.3,381.6 1921.7,399.7 1945.1,420.8 1968.7,444.7 1992.3,471.5 2015.8,501.3 2039.4,534.4 2063,570.8 2086.5,610.9 2109.9,654.9 2133.2,703.1 2156.3,755.7M1694.8,367.3 1716.9,359.7 1739.3,355.3 1761.8,354.1 1784.6,356.3 1807.5,361.7 1830.6,370.5 1853.8,382.6 1877.1,397.9 1900.5,416.4 1924,437.8 1947.5,462 1971.2,488.9 1994.8,518.8 2018.4,551.7 2042.1,588.1 2065.6,628.1 2089.1,671.9 2112.5,720 2135.7,772.7M1673.6,382.5 1695.7,374.8 1718,370.4 1740.5,369.4 1763.2,371.6 1786.1,377.3 1809.2,386.3 1832.4,398.7 1855.7,414.4 1879.2,433.1 1902.7,454.9 1926.3,479.3 1949.9,506.4 1973.6,536.3 1997.3,569.2 2021,605.5 2044.6,645.3 2068.2,689 2091.6,737.1 2114.9,789.9M1652.2,397.8 1674.2,390.1 1696.5,385.7 1719,384.7 1741.8,387.1 1764.7,392.9 1787.7,402.2 1810.9,414.9 1834.3,430.9 1857.7,450 1881.3,472.1 1904.9,496.8 1928.6,524 1952.3,553.9 1976,586.8 1999.8,622.9 2023.5,662.6 2047.1,706.2 2070.6,754.2 2094,807.1M1630.7,413.2 1652.7,405.5 1674.9,401.1 1697.4,400.2 1720.1,402.7 1743,408.7 1766.1,418.2 1789.3,431.2 1812.7,447.5 1836.1,467 1859.7,489.4 1883.3,514.4 1907,541.8 1930.8,571.7 1954.6,604.5 1978.4,640.5 2002.2,680.1 2025.9,723.5 2049.5,771.5 2073,824.5M1609,428.7 1631,421 1653.2,416.6 1675.7,415.7 1698.4,418.4 1721.3,424.5 1744.3,434.3 1767.5,447.6 1790.9,464.3 1814.4,484.1 1838,506.8 1861.7,532 1885.4,559.6 1909.2,589.6 1933.1,622.3 1956.9,658.3 1980.7,697.6 2004.5,741 2028.2,788.9 2051.8,842M1587.2,444.3 1609.1,436.5 1631.3,432.2 1653.8,431.4 1676.5,434.1 1699.3,440.5 1722.4,450.5 1745.6,464.1 1769,481.2 1792.5,501.3 1816.1,524.4 1839.8,549.8 1863.6,577.5 1887.5,607.6 1911.4,640.3 1935.3,676.1 1959.2,715.3 1983,758.5 2006.8,806.4 2030.5,859.7M1565.2,460 1587.1,452.2 1609.3,447.9 1631.7,447.1 1654.4,450 1677.3,456.5 1700.3,466.8 1723.6,480.7 1747,498.1 1770.5,518.7 1794.1,542 1817.9,567.8 1841.7,595.6 1865.6,625.7 1889.5,658.3 1913.5,694 1937.5,733.1 1961.4,776.2 1985.3,824 2009,877.4M1543.2,475.8 1565,468 1587.2,463.7 1609.6,463 1632.2,466 1655.1,472.7 1678.1,483.2 1701.4,497.4 1724.8,515.2 1748.3,536.1 1772,559.8 1795.8,585.8 1819.6,613.8 1843.6,643.9 1867.5,676.5 1891.6,712.1 1915.6,751 1939.6,794 1963.6,841.8 1987.4,895.3M1520.9,491.7 1542.7,483.8 1564.9,479.6 1587.2,479 1609.9,482.1 1632.7,489 1655.8,499.7 1679.1,514.3 1702.5,532.4 1726,553.7 1749.7,577.7 1773.5,603.9 1797.4,632.1 1821.4,662.2 1845.4,694.8 1869.5,730.3 1893.6,769.1 1917.7,811.9 1941.7,859.7 1965.6,913.2M1498.6,507.7 1520.3,499.8 1542.4,495.6 1564.8,495 1587.4,498.3 1610.2,505.4 1633.3,516.3 1656.6,531.2 1680,549.7 1703.6,571.3 1727.3,595.7 1751.1,622.2 1775.1,650.5 1799.1,680.7 1823.2,713.2 1847.3,748.6 1871.4,787.3 1895.6,829.9 1919.7,877.7 1943.7,931.4M1476,523.8 1497.8,515.9 1519.8,511.7 1542.1,511.2 1564.7,514.6 1587.6,521.8 1610.6,533.1 1633.9,548.3 1657.4,567.1 1681,589.1 1704.7,613.8 1728.6,640.6 1752.6,669 1776.6,699.3 1800.7,731.8 1824.9,767 1849.1,805.5 1873.4,848.1 1897.6,895.8 1921.7,949.6M1453.4,540 1475,532.1 1497,527.9 1519.3,527.5 1541.9,531 1564.8,538.4 1587.8,549.9 1611.1,565.4 1634.6,584.6 1658.3,607 1682,632 1705.9,659.1 1729.9,687.7 1754,718 1778.2,750.4 1802.4,785.6 1826.7,823.9 1851,866.4 1875.3,914 1899.5,967.9M1430.6,556.3 1452.2,548.4 1474.1,544.2 1496.4,543.9 1519,547.5 1541.8,555.2 1564.9,566.9 1588.2,582.7 1611.7,602.3 1635.4,625 1659.2,650.4 1683.1,677.7 1707.1,706.5 1731.2,736.8 1755.5,769.2 1779.7,804.2 1804.1,842.5 1828.5,884.8 1852.8,932.4 1877.1,986.4M1407.6,572.7 1429.2,564.8 1451.1,560.7 1473.3,560.4 1495.9,564.2 1518.7,572 1541.8,584 1565.1,600.1 1588.6,620.1 1612.3,643.2 1636.1,668.9 1660.1,696.5 1684.2,725.4 1708.3,755.8 1732.6,788.1 1756.9,823 1781.3,861.1 1805.8,903.3 1830.2,950.9 1854.6,1005M1384.5,589.3 1406,581.3 1427.9,577.2 1450.1,577 1472.6,580.9 1495.4,588.9 1518.5,601.2 1541.8,617.6 1565.4,638 1589.1,661.5 1613,687.5 1637,715.3 1661.1,744.4 1685.3,774.8 1709.6,807.1 1734,842 1758.4,879.9 1782.9,922 1807.4,969.5 1831.9,1023.8M1361.2,605.9 1382.7,597.9 1404.5,593.8 1426.7,593.8 1449.2,597.8 1472,606 1495.1,618.5 1518.4,635.3 1542,656 1565.7,679.8 1589.6,706.2 1613.7,734.3 1637.8,763.6 1662,794.1 1686.4,826.3 1710.8,861 1735.3,898.8 1759.9,940.8 1784.5,988.2 1809.1,1042.6M1337.8,622.7 1359.2,614.7 1381,610.6 1403.1,610.6 1425.6,614.7 1448.4,623.1 1471.5,635.9 1494.9,653 1518.5,674.1 1542.2,698.3 1566.2,725.1 1590.2,753.5 1614.4,782.9 1638.7,813.4 1663.1,845.6 1687.5,880.2 1712.1,917.9 1736.7,959.7 1761.4,1007.1 1786.1,1061.7" fill="none" stroke="#000" stroke-opacity="0.8" stroke-width="2.1" stroke-linejoin="round"/>
<path d="M1757.8,322.3 1773.6,316.6 1784.2,313.6 1800.2,310.6 1810.9,309.4 1827,309 1837.8,309.6 1848.7,310.9 1865,314.2 1875.9,317.2 1892.4,323.2 1903.4,328 1919.9,336.6 1930.9,343.2 1947.6,354.4 1964.2,367.1 1980.9,381.5 1992.1,391.8 2008.8,408.7 2025.5,427.1 2036.7,440.3 2053.4,461.4 2064.6,476.4 2081.3,500.4 2092.5,517.4 2109.2,544.4 2120.3,563.5 2136.9,593.7 2147.9,615 2164.4,648.5 2175.4,672.1 2197.1,721.9 1786.1,1061.7 1774.4,1034.8 1762.7,1009.6 1750.9,986.2 1739.2,964.1 1715.8,923.9 1704.1,905.3 1686.6,878.9 1669.2,854 1651.8,830.4 1628.6,800.6 1605.6,772.1 1582.7,744.4 1559.9,717.8 1537.2,693 1520.2,675.8 1503.4,660.3 1492.2,650.9 1481.1,642.4 1470.1,635 1459.1,628.5 1448.1,623 1437.3,618.5 1426.5,615 1415.8,612.4 1405.1,610.8 1394.5,610.1 1384,610.4 1373.6,611.5 1363.3,613.6 1353,616.6 1337.8,622.7 1757.8,322.3Z" fill="none" stroke="#222" stroke-width="2" stroke-linejoin="round"/>
<line x1="1551" y1="508" x2="1551" y2="540" stroke="#2222dd" stroke-width="2.2" stroke-dasharray="3,2.5" stroke-opacity="1"/>
<circle cx="1551" cy="508" r="7" fill="none" stroke="#2222dd" stroke-width="2.6" stroke-opacity="1"/>
<circle cx="1615" cy="458" r="7" fill="none" stroke="#5a1ab0" stroke-width="2.6" stroke-opacity="1"/>
<circle cx="1765" cy="400" r="7" fill="none" stroke="#8a1aa0" stroke-width="2.6" stroke-opacity="1"/>
<circle cx="1918" cy="413" r="7" fill="none" stroke="#2222dd" stroke-width="2.6" stroke-opacity="1"/>
<line x1="1770" y1="517" x2="1770" y2="548" stroke="#2222dd" stroke-width="2.2" stroke-dasharray="3,2.5" stroke-opacity="1"/>
<circle cx="1770" cy="517" r="7" fill="none" stroke="#2222dd" stroke-width="2.6" stroke-opacity="1"/>
<circle cx="1770" cy="552" r="7" fill="none" stroke="#c02080" stroke-width="2.6" stroke-opacity="1"/>
<line x1="1987" y1="567" x2="1987" y2="597" stroke="#2222dd" stroke-width="2.2" stroke-dasharray="3,2.5" stroke-opacity="1"/>
<circle cx="1987" cy="567" r="7" fill="none" stroke="#2222dd" stroke-width="2.6" stroke-opacity="1"/>
<line x1="1617" y1="685" x2="1617" y2="650" stroke="#c02080" stroke-width="2.2" stroke-dasharray="3,2.5" stroke-opacity="1"/>
<circle cx="1617" cy="685" r="7" fill="none" stroke="#c02080" stroke-width="2.6" stroke-opacity="1"/>
<line x1="1777" y1="706" x2="1777" y2="760" stroke="#2222dd" stroke-width="2.2" stroke-dasharray="3,2.5" stroke-opacity="1"/>
<circle cx="1777" cy="706" r="7" fill="none" stroke="#2222dd" stroke-width="2.6" stroke-opacity="1"/>
<g class="tk"><text transform="matrix(0.8898,-0.4361,0.0444,1.0462,1320.5,859.9)" font-size="30" text-anchor="middle" dominant-baseline="central" fill="#2b2b2b">0</text>
<text transform="matrix(0.9011,-0.4303,0.0467,1.0632,1302.3,791.8)" font-size="30" text-anchor="middle" dominant-baseline="central" fill="#2b2b2b">200</text>
<text transform="matrix(0.9081,-0.4221,0.0474,1.0787,1299.0,715.3)" font-size="30" text-anchor="middle" dominant-baseline="central" fill="#2b2b2b">400</text>
<text transform="matrix(0.9153,-0.4136,0.0481,1.0945,1295.5,637.7)" font-size="30" text-anchor="middle" dominant-baseline="central" fill="#2b2b2b">600</text>
<text transform="matrix(0.9225,-0.4048,0.0488,1.1107,1292.1,558.9)" font-size="30" text-anchor="middle" dominant-baseline="central" fill="#2b2b2b">800</text>
<text transform="matrix(0.9323,-0.3967,0.0504,1.1284,1280.8,482.3)" font-size="30" text-anchor="middle" dominant-baseline="central" fill="#2b2b2b">1000</text>
<text transform="matrix(0.9398,-0.3873,0.0512,1.1453,1277.2,401.1)" font-size="30" text-anchor="middle" dominant-baseline="central" fill="#2b2b2b">1200</text>
<text transform="matrix(0.9247,-0.4651,0.8496,0.4372,1306.7,946.0)" font-size="30" text-anchor="middle" dominant-baseline="central" fill="#2b2b2b">-2.0</text>
<text transform="matrix(0.9245,-0.4730,0.8637,0.4445,1358.1,972.5)" font-size="30" text-anchor="middle" dominant-baseline="central" fill="#2b2b2b">-1.5</text>
<text transform="matrix(0.9242,-0.4811,0.8781,0.4519,1410.3,999.4)" font-size="30" text-anchor="middle" dominant-baseline="central" fill="#2b2b2b">-1.0</text>
<text transform="matrix(0.9237,-0.4893,0.8929,0.4595,1463.5,1026.7)" font-size="30" text-anchor="middle" dominant-baseline="central" fill="#2b2b2b">-0.5</text>
<text transform="matrix(0.9217,-0.4970,0.9081,0.4666,1522.1,1052.0)" font-size="30" text-anchor="middle" dominant-baseline="central" fill="#2b2b2b">0.0</text>
<text transform="matrix(0.9209,-0.5057,0.9237,0.4746,1577.0,1080.2)" font-size="30" text-anchor="middle" dominant-baseline="central" fill="#2b2b2b">0.5</text>
<text transform="matrix(0.9200,-0.5146,0.9397,0.4829,1632.9,1109.0)" font-size="30" text-anchor="middle" dominant-baseline="central" fill="#2b2b2b">1.0</text>
<text transform="matrix(0.9189,-0.5238,0.9561,0.4913,1689.8,1138.2)" font-size="30" text-anchor="middle" dominant-baseline="central" fill="#2b2b2b">1.5</text>
<text transform="matrix(0.9176,-0.5332,0.9729,0.4999,1747.7,1167.9)" font-size="30" text-anchor="middle" dominant-baseline="central" fill="#2b2b2b">2.0</text>
<text transform="matrix(0.9692,0.4320,-0.7787,0.4595,2235.1,931.6)" font-size="30" text-anchor="middle" dominant-baseline="central" fill="#2b2b2b">-2.0</text>
<text transform="matrix(0.9715,0.4397,-0.7929,0.4679,2188.0,959.4)" font-size="30" text-anchor="middle" dominant-baseline="central" fill="#2b2b2b">-1.5</text>
<text transform="matrix(0.9738,0.4477,-0.8075,0.4765,2140.0,987.8)" font-size="30" text-anchor="middle" dominant-baseline="central" fill="#2b2b2b">-1.0</text>
<text transform="matrix(0.9760,0.4558,-0.8225,0.4853,2091.1,1016.6)" font-size="30" text-anchor="middle" dominant-baseline="central" fill="#2b2b2b">-0.5</text>
<text transform="matrix(0.9767,0.4636,-0.8381,0.4937,2036.4,1043.7)" font-size="30" text-anchor="middle" dominant-baseline="central" fill="#2b2b2b">0.0</text>
<text transform="matrix(0.9787,0.4722,-0.8539,0.5031,1985.6,1073.6)" font-size="30" text-anchor="middle" dominant-baseline="central" fill="#2b2b2b">0.5</text>
<text transform="matrix(0.9806,0.4810,-0.8702,0.5127,1933.9,1104.1)" font-size="30" text-anchor="middle" dominant-baseline="central" fill="#2b2b2b">1.0</text>
<text transform="matrix(0.9823,0.4901,-0.8870,0.5225,1881.2,1135.1)" font-size="30" text-anchor="middle" dominant-baseline="central" fill="#2b2b2b">1.5</text>
<text transform="matrix(0.9840,0.4995,-0.9042,0.5327,1827.4,1166.8)" font-size="30" text-anchor="middle" dominant-baseline="central" fill="#2b2b2b">2.0</text>
<text transform="matrix(0.8529,0.4486,-0.6801,0.3661,1443.8,1088.4)" font-size="30" text-anchor="middle" dominant-baseline="central" fill="#2b2b2b">Base oil viscosity</text>
<text transform="matrix(0.7881,-0.4764,0.7191,0.3424,2102.9,1086.1)" font-size="30" text-anchor="middle" dominant-baseline="central" fill="#2b2b2b">CNC concentration</text>
<text transform="translate(1215,704.5) rotate(87.2)" font-size="32.5" text-anchor="middle" dominant-baseline="central" textLength="370" lengthAdjust="spacingAndGlyphs" fill="#2b2b2b">Wear scar diameter (µm)</text></g>
</g>
<text class="lab" x="30.5" y="1176" font-size="80">a)</text>
<text class="lab" x="1230" y="1176" font-size="80">b)</text>
</svg>
</body></html>
